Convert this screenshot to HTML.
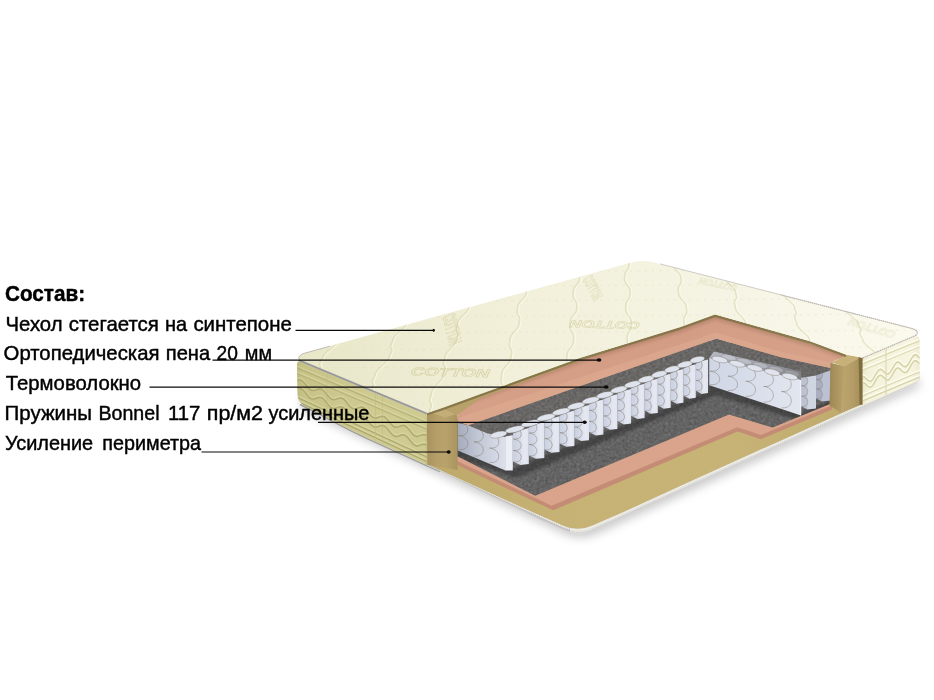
<!DOCTYPE html>
<html lang="ru"><head><meta charset="utf-8"><title>Состав матраса</title>
<style>
html,body{margin:0;padding:0;background:#fff;overflow:hidden;}
#stage{position:relative;width:934px;height:700px;overflow:hidden;background:#fff;}
#stage svg{position:absolute;left:0;top:0;display:block;}
</style></head>
<body><div id="stage">
<svg width="934" height="700" viewBox="0 0 934 700">
<defs>
<filter id="blur6" x="-20%" y="-50%" width="140%" height="200%"><feGaussianBlur stdDeviation="4.6"/></filter>
<filter id="blur03" x="-10%" y="-30%" width="120%" height="160%"><feGaussianBlur stdDeviation="0.35"/></filter>
<filter id="blur05" x="-10%" y="-10%" width="120%" height="120%"><feGaussianBlur stdDeviation="0.5"/></filter>
<filter id="blur1" x="-10%" y="-10%" width="120%" height="120%"><feGaussianBlur stdDeviation="0.6"/></filter>
<filter id="blur2" x="-10%" y="-10%" width="120%" height="120%"><feGaussianBlur stdDeviation="1.6"/></filter>
<filter id="noise" x="0" y="0" width="100%" height="100%">
<feTurbulence type="fractalNoise" baseFrequency="0.35" numOctaves="3" seed="11" result="n"/>
<feColorMatrix in="n" type="matrix" values="0 0 0 0 0  0 0 0 0 0  0 0 0 0 0  1.5 1.5 0 0 -1.2"/>
</filter>
<filter id="noiseL" x="0" y="0" width="100%" height="100%">
<feTurbulence type="fractalNoise" baseFrequency="0.35" numOctaves="3" seed="4" result="n"/>
<feColorMatrix in="n" type="matrix" values="0 0 0 0 1  0 0 0 0 1  0 0 0 0 1  0 1.5 1.5 0 -1.2"/>
</filter>
<linearGradient id="gOlive" gradientUnits="userSpaceOnUse" x1="430" y1="0" x2="860" y2="0"><stop offset="0" stop-color="#bda86a"/><stop offset="0.3" stop-color="#c6b274"/><stop offset="0.7" stop-color="#c7b376"/><stop offset="1" stop-color="#bfaa6c"/></linearGradient>
<linearGradient id="gUnit" x1="0" y1="0" x2="1" y2="0"><stop offset="0" stop-color="#cfd3e2"/><stop offset="0.38" stop-color="#dfe2ee"/><stop offset="0.5" stop-color="#eff0f7"/><stop offset="1" stop-color="#f6f6fb"/></linearGradient>
<linearGradient id="gBig" x1="0" y1="0" x2="1" y2="0"><stop offset="0" stop-color="#d0d6e5"/><stop offset="1" stop-color="#e2e6f0"/></linearGradient>
<linearGradient id="gShad" gradientUnits="userSpaceOnUse" x1="712" y1="0" x2="805" y2="0"><stop offset="0" stop-color="#b3b7c2"/><stop offset="0.6" stop-color="#9a9da7"/><stop offset="1" stop-color="#7c7d82"/></linearGradient>
<linearGradient id="gSideU" x1="0" y1="0" x2="1" y2="0"><stop offset="0" stop-color="#c9d0e1"/><stop offset="1" stop-color="#d6dbe8"/></linearGradient>
<linearGradient id="gFrontU" x1="0" y1="0" x2="1" y2="0"><stop offset="0" stop-color="#dce0ec"/><stop offset="0.55" stop-color="#e6e9f2"/><stop offset="1" stop-color="#dfe3ee"/></linearGradient>
<linearGradient id="gBig1" gradientUnits="userSpaceOnUse" x1="457" y1="0" x2="506" y2="0"><stop offset="0" stop-color="#a5aabb"/><stop offset="0.4" stop-color="#c0c5d4"/><stop offset="1" stop-color="#dde1ec"/></linearGradient>
<linearGradient id="gPinkT" gradientUnits="userSpaceOnUse" x1="430" y1="0" x2="850" y2="0"><stop offset="0" stop-color="#d6a088"/><stop offset="0.6" stop-color="#d39c84"/><stop offset="1" stop-color="#d7a28a"/></linearGradient>
<linearGradient id="gBrownL" gradientUnits="userSpaceOnUse" x1="427" y1="0" x2="458" y2="0"><stop offset="0" stop-color="#a8925e"/><stop offset="0.3" stop-color="#b59e68"/><stop offset="0.6" stop-color="#b9a26b"/><stop offset="1" stop-color="#a9935f"/></linearGradient>
<linearGradient id="gBrR1" gradientUnits="userSpaceOnUse" x1="830" y1="0" x2="845" y2="0"><stop offset="0" stop-color="#9e8855"/><stop offset="0.5" stop-color="#ad9661"/><stop offset="1" stop-color="#b9a26b"/></linearGradient>
<linearGradient id="gBrR2" gradientUnits="userSpaceOnUse" x1="843" y1="0" x2="861" y2="0"><stop offset="0" stop-color="#bba46d"/><stop offset="0.6" stop-color="#b29b65"/><stop offset="1" stop-color="#a48e5a"/></linearGradient>
<linearGradient id="gSideL" gradientUnits="userSpaceOnUse" x1="0" y1="360" x2="21" y2="409"><stop offset="0" stop-color="#e8e6b9"/><stop offset="0.2" stop-color="#e3e1ae"/><stop offset="0.7" stop-color="#dcd9a2"/><stop offset="1" stop-color="#ceca90"/></linearGradient>
<linearGradient id="gSideLx" gradientUnits="userSpaceOnUse" x1="296" y1="0" x2="428" y2="0"><stop offset="0" stop-color="#a9a566" stop-opacity="0.6"/><stop offset="0.05" stop-color="#b5b070" stop-opacity="0.28"/><stop offset="0.3" stop-color="#b5b070" stop-opacity="0.12"/><stop offset="0.7" stop-color="#c8c388" stop-opacity="0"/><stop offset="0.97" stop-color="#c8c388" stop-opacity="0"/><stop offset="1" stop-color="#a39d62" stop-opacity="0.55"/></linearGradient>
<linearGradient id="gSideR" gradientUnits="userSpaceOnUse" x1="862" y1="0" x2="920" y2="0"><stop offset="0" stop-color="#ebe9ca"/><stop offset="0.12" stop-color="#f4f2da"/><stop offset="0.85" stop-color="#f7f5e0"/><stop offset="1" stop-color="#edebd0"/></linearGradient>
<linearGradient id="gCover" gradientUnits="userSpaceOnUse" x1="300" y1="0" x2="920" y2="0"><stop offset="0" stop-color="#e9e7c8"/><stop offset="0.1" stop-color="#ebe9cd"/><stop offset="0.355" stop-color="#f2f0da"/><stop offset="0.74" stop-color="#f6f5e6"/><stop offset="1" stop-color="#fbfaee"/></linearGradient>
</defs>
<path d="M300,404 L427,464 L563,528 Q578.6,535 594,528.5 L918,381 L918,372 L578,500 L300,390Z" fill="#666" opacity="0.34" filter="url(#blur6)" transform="translate(1.5,6)"/>
<path d="M298,400 L303,406.2 L319.3,414.4 L336.5,423.9 L353.6,432.5 L365,438.2 L427,466.6 L440,472.3 L500,500 L540,519.3 L563.5,530 Q578.6,537.4 593.5,529.6 L620,517.3 L700,480.9 L780,444.4 L862,407.1 L917,382.3 Q920,381 920,378 L920,372 L577,516 L297,394Z" fill="#e4e3df"/>
<path d="M300,404.5 L303,406 L319.3,414.1 L336.5,423.5 L353.6,432.1 L365,437.7 L427,465.9 L440,471.6" fill="none" stroke="#9d9d9b" stroke-width="1.4"/>
<path d="M427,465.6 L440,471.4 L500,499.9 L540,519.2 L563.5,529.5 L570,532 L570,528 L563.5,526.9 L540,516.3 L440,469.8 L427,464Z" fill="#c4c4c6"/>
<path d="M440,471.2 L500,499.7 L540,519 L563.5,529.3 Q578.6,536.2 593.5,528.9 L620,517 L700,480.6 L780,444.1 L862,406.8 L917,382" fill="none" stroke="#c9c6c0" stroke-width="0.9" stroke-dasharray="1.2 1.1"/>
<path d="M440,469.8 L540,516.3 L563.5,526.9 Q578.6,533.2 593.5,526.2 L620,514.4 L700,477.8 L780,441.7 L862,404.6" fill="none" stroke="#f4f3f0" stroke-width="1.2" stroke-dasharray="1.4 0.9"/>
<path d="M427,464 L440,470 L540,515.6 L564,526 Q578.6,532 593,525.3 L620,513.6 L700,477 L780,440.9 L862.5,403.8 L862.5,380 L600,420 L440,440Z" fill="url(#gOlive)"/>
<path d="M452.0,462.5 L553.2,510.3 L737.5,431.4 L761.0,439.2 L832.0,409.5 L832,380 L452,430Z" fill="#c48c74"/>
<path d="M452.0,458.5 L551.5,505.8 L737.3,427.2 L761.0,435.0 L832.0,405.5 L832,380 L452,430Z" fill="#d9a48b"/>
<clipPath id="cFloor"><path d="M456.0,449.0 L456.0,455.5 L535.2,495.7 L729.0,414.6 L772.7,427.6 L831.0,403.5 L831.0,350.0 L700.0,340.0 L456.0,420.0Z"/></clipPath>
<path d="M456.0,449.0 L456.0,455.5 L535.2,495.7 L729.0,414.6 L772.7,427.6 L831.0,403.5 L831.0,350.0 L700.0,340.0 L456.0,420.0Z" fill="#656465"/>
<g clip-path="url(#cFloor)"><rect x="440" y="330" width="400" height="175" filter="url(#noise)" opacity="0.16"/><rect x="440" y="330" width="400" height="175" filter="url(#noiseL)" opacity="0.10"/><g opacity="0.55"><circle cx="577.8" cy="367.8" r="0.42" fill="#b0afaa"/><circle cx="764.8" cy="359.2" r="0.42" fill="#8c4a44"/><circle cx="646.8" cy="350.7" r="0.55" fill="#3f3e40"/><circle cx="546.5" cy="428.2" r="0.69" fill="#8c4a44"/><circle cx="502.5" cy="378.7" r="0.60" fill="#b0afaa"/><circle cx="479.3" cy="433.4" r="0.74" fill="#8c4a44"/><circle cx="473.5" cy="474.6" r="0.55" fill="#9a9a98"/><circle cx="659.3" cy="431.2" r="0.69" fill="#8c4a44"/><circle cx="524.0" cy="432.8" r="0.47" fill="#b0afaa"/><circle cx="492.6" cy="452.5" r="0.42" fill="#8c4a44"/><circle cx="533.4" cy="447.7" r="0.67" fill="#3f3e40"/><circle cx="631.1" cy="484.4" r="0.50" fill="#9a9a98"/><circle cx="754.7" cy="450.5" r="0.43" fill="#4a4f7c"/><circle cx="568.9" cy="419.8" r="0.66" fill="#9a9a98"/><circle cx="564.3" cy="493.0" r="0.58" fill="#8c4a44"/><circle cx="518.0" cy="396.7" r="0.55" fill="#3f3e40"/><circle cx="817.7" cy="356.7" r="0.60" fill="#8c4a44"/><circle cx="785.2" cy="392.4" r="0.52" fill="#b0afaa"/><circle cx="642.7" cy="465.3" r="0.69" fill="#8c4a44"/><circle cx="811.2" cy="416.6" r="0.42" fill="#b0afaa"/><circle cx="730.9" cy="391.8" r="0.75" fill="#8c4a44"/><circle cx="765.0" cy="388.0" r="0.71" fill="#3f3e40"/><circle cx="586.5" cy="487.0" r="0.46" fill="#9a9a98"/><circle cx="500.0" cy="353.9" r="0.45" fill="#9a9a98"/><circle cx="549.1" cy="404.0" r="0.43" fill="#3f3e40"/><circle cx="624.9" cy="428.0" r="0.69" fill="#4a4f7c"/><circle cx="780.9" cy="387.0" r="0.75" fill="#3f3e40"/><circle cx="712.7" cy="402.4" r="0.45" fill="#4a4f7c"/><circle cx="522.3" cy="380.0" r="0.40" fill="#4a4f7c"/><circle cx="768.5" cy="372.5" r="0.40" fill="#9a9a98"/><circle cx="613.5" cy="400.8" r="0.51" fill="#8c4a44"/><circle cx="503.2" cy="474.7" r="0.63" fill="#8c4a44"/><circle cx="734.2" cy="414.0" r="0.68" fill="#b0afaa"/><circle cx="603.5" cy="405.2" r="0.57" fill="#8c4a44"/><circle cx="606.6" cy="373.8" r="0.55" fill="#4a4f7c"/><circle cx="497.3" cy="435.7" r="0.40" fill="#8c4a44"/><circle cx="512.9" cy="360.3" r="0.61" fill="#9a9a98"/><circle cx="482.4" cy="376.4" r="0.45" fill="#3f3e40"/><circle cx="550.8" cy="397.5" r="0.57" fill="#9a9a98"/><circle cx="499.4" cy="418.7" r="0.57" fill="#3f3e40"/><circle cx="573.3" cy="366.8" r="0.52" fill="#b0afaa"/><circle cx="555.5" cy="470.2" r="0.58" fill="#4a4f7c"/><circle cx="533.2" cy="488.8" r="0.45" fill="#9a9a98"/><circle cx="660.2" cy="349.1" r="0.50" fill="#8c4a44"/><circle cx="697.7" cy="358.7" r="0.58" fill="#9a9a98"/><circle cx="797.5" cy="398.7" r="0.59" fill="#4a4f7c"/><circle cx="748.9" cy="394.8" r="0.61" fill="#4a4f7c"/><circle cx="752.4" cy="459.5" r="0.68" fill="#4a4f7c"/><circle cx="763.7" cy="456.7" r="0.47" fill="#4a4f7c"/><circle cx="641.3" cy="455.4" r="0.68" fill="#8c4a44"/><circle cx="633.6" cy="374.2" r="0.73" fill="#8c4a44"/><circle cx="624.2" cy="486.5" r="0.73" fill="#9a9a98"/><circle cx="593.1" cy="378.3" r="0.56" fill="#4a4f7c"/><circle cx="583.0" cy="417.9" r="0.69" fill="#8c4a44"/><circle cx="636.3" cy="443.6" r="0.43" fill="#b0afaa"/><circle cx="704.4" cy="482.4" r="0.66" fill="#b0afaa"/><circle cx="635.7" cy="372.0" r="0.52" fill="#b0afaa"/><circle cx="757.1" cy="491.7" r="0.56" fill="#3f3e40"/><circle cx="735.5" cy="357.8" r="0.46" fill="#4a4f7c"/><circle cx="503.8" cy="367.8" r="0.68" fill="#3f3e40"/><circle cx="511.0" cy="469.8" r="0.63" fill="#3f3e40"/><circle cx="587.8" cy="427.8" r="0.41" fill="#4a4f7c"/><circle cx="756.6" cy="454.7" r="0.58" fill="#8c4a44"/><circle cx="807.0" cy="410.5" r="0.69" fill="#4a4f7c"/><circle cx="535.4" cy="383.0" r="0.58" fill="#9a9a98"/><circle cx="743.1" cy="394.2" r="0.55" fill="#8c4a44"/><circle cx="505.3" cy="482.4" r="0.71" fill="#9a9a98"/><circle cx="705.1" cy="468.1" r="0.55" fill="#8c4a44"/><circle cx="801.1" cy="420.7" r="0.45" fill="#8c4a44"/><circle cx="648.0" cy="476.8" r="0.61" fill="#4a4f7c"/><circle cx="747.8" cy="367.6" r="0.57" fill="#4a4f7c"/><circle cx="728.7" cy="429.0" r="0.64" fill="#9a9a98"/><circle cx="655.6" cy="417.9" r="0.71" fill="#8c4a44"/><circle cx="477.4" cy="373.9" r="0.67" fill="#8c4a44"/><circle cx="646.9" cy="429.8" r="0.56" fill="#8c4a44"/><circle cx="686.3" cy="421.3" r="0.47" fill="#8c4a44"/><circle cx="560.2" cy="421.7" r="0.58" fill="#3f3e40"/><circle cx="549.1" cy="424.0" r="0.72" fill="#9a9a98"/><circle cx="791.7" cy="375.6" r="0.45" fill="#3f3e40"/><circle cx="501.7" cy="411.8" r="0.63" fill="#8c4a44"/><circle cx="617.1" cy="377.1" r="0.67" fill="#9a9a98"/><circle cx="793.3" cy="368.3" r="0.63" fill="#b0afaa"/><circle cx="593.7" cy="383.2" r="0.74" fill="#4a4f7c"/><circle cx="538.6" cy="488.8" r="0.71" fill="#3f3e40"/><circle cx="517.2" cy="445.8" r="0.46" fill="#4a4f7c"/><circle cx="618.3" cy="422.9" r="0.55" fill="#9a9a98"/><circle cx="590.1" cy="358.9" r="0.41" fill="#9a9a98"/><circle cx="664.3" cy="411.5" r="0.53" fill="#8c4a44"/><circle cx="650.6" cy="389.6" r="0.44" fill="#8c4a44"/><circle cx="801.4" cy="379.5" r="0.43" fill="#8c4a44"/><circle cx="558.2" cy="481.8" r="0.49" fill="#4a4f7c"/><circle cx="504.7" cy="408.8" r="0.69" fill="#b0afaa"/><circle cx="553.2" cy="367.6" r="0.60" fill="#8c4a44"/><circle cx="719.4" cy="358.5" r="0.68" fill="#8c4a44"/><circle cx="524.9" cy="480.2" r="0.73" fill="#9a9a98"/><circle cx="694.5" cy="466.0" r="0.61" fill="#8c4a44"/><circle cx="539.6" cy="384.9" r="0.56" fill="#8c4a44"/><circle cx="583.5" cy="428.5" r="0.62" fill="#9a9a98"/><circle cx="472.2" cy="452.1" r="0.74" fill="#8c4a44"/><circle cx="554.5" cy="372.4" r="0.62" fill="#9a9a98"/><circle cx="655.7" cy="376.1" r="0.58" fill="#3f3e40"/><circle cx="522.9" cy="397.4" r="0.75" fill="#8c4a44"/><circle cx="469.9" cy="347.8" r="0.59" fill="#8c4a44"/><circle cx="527.2" cy="416.7" r="0.44" fill="#3f3e40"/><circle cx="763.9" cy="410.3" r="0.59" fill="#3f3e40"/><circle cx="790.2" cy="491.5" r="0.64" fill="#9a9a98"/><circle cx="825.4" cy="396.7" r="0.66" fill="#b0afaa"/><circle cx="508.5" cy="494.4" r="0.69" fill="#8c4a44"/><circle cx="461.4" cy="439.4" r="0.55" fill="#9a9a98"/><circle cx="476.8" cy="445.4" r="0.70" fill="#3f3e40"/><circle cx="708.1" cy="387.6" r="0.64" fill="#4a4f7c"/><circle cx="473.0" cy="373.0" r="0.56" fill="#9a9a98"/><circle cx="555.0" cy="490.2" r="0.51" fill="#8c4a44"/><circle cx="469.0" cy="478.2" r="0.52" fill="#4a4f7c"/><circle cx="456.4" cy="402.6" r="0.50" fill="#3f3e40"/><circle cx="702.7" cy="382.5" r="0.43" fill="#8c4a44"/><circle cx="763.2" cy="366.7" r="0.41" fill="#8c4a44"/><circle cx="464.5" cy="390.9" r="0.43" fill="#4a4f7c"/><circle cx="816.1" cy="473.8" r="0.63" fill="#4a4f7c"/><circle cx="725.2" cy="477.7" r="0.67" fill="#3f3e40"/><circle cx="727.0" cy="419.6" r="0.65" fill="#9a9a98"/><circle cx="697.9" cy="351.6" r="0.71" fill="#b0afaa"/><circle cx="691.9" cy="455.8" r="0.45" fill="#8c4a44"/><circle cx="652.9" cy="421.2" r="0.69" fill="#8c4a44"/><circle cx="675.6" cy="479.8" r="0.73" fill="#b0afaa"/><circle cx="697.7" cy="357.8" r="0.45" fill="#8c4a44"/><circle cx="591.6" cy="360.8" r="0.60" fill="#3f3e40"/><circle cx="692.0" cy="439.6" r="0.49" fill="#b0afaa"/><circle cx="555.2" cy="414.0" r="0.66" fill="#8c4a44"/><circle cx="645.1" cy="425.8" r="0.58" fill="#b0afaa"/><circle cx="736.4" cy="416.6" r="0.70" fill="#8c4a44"/><circle cx="544.3" cy="459.2" r="0.66" fill="#4a4f7c"/><circle cx="822.9" cy="419.6" r="0.43" fill="#3f3e40"/><circle cx="798.3" cy="388.4" r="0.62" fill="#8c4a44"/><circle cx="697.7" cy="356.7" r="0.52" fill="#4a4f7c"/><circle cx="701.0" cy="449.6" r="0.60" fill="#8c4a44"/><circle cx="460.7" cy="354.2" r="0.74" fill="#9a9a98"/><circle cx="493.4" cy="377.9" r="0.50" fill="#3f3e40"/><circle cx="650.2" cy="415.2" r="0.67" fill="#3f3e40"/><circle cx="829.5" cy="427.9" r="0.74" fill="#9a9a98"/><circle cx="808.0" cy="347.6" r="0.43" fill="#3f3e40"/><circle cx="646.5" cy="495.2" r="0.54" fill="#9a9a98"/><circle cx="800.6" cy="485.5" r="0.60" fill="#8c4a44"/><circle cx="509.3" cy="424.1" r="0.45" fill="#9a9a98"/><circle cx="764.4" cy="421.8" r="0.65" fill="#8c4a44"/><circle cx="543.0" cy="480.6" r="0.54" fill="#3f3e40"/><circle cx="515.8" cy="488.4" r="0.56" fill="#b0afaa"/><circle cx="569.5" cy="366.2" r="0.53" fill="#9a9a98"/><circle cx="501.5" cy="395.0" r="0.66" fill="#9a9a98"/><circle cx="771.5" cy="363.1" r="0.65" fill="#4a4f7c"/><circle cx="795.0" cy="388.8" r="0.42" fill="#9a9a98"/><circle cx="602.7" cy="476.4" r="0.53" fill="#8c4a44"/><circle cx="616.9" cy="386.5" r="0.50" fill="#8c4a44"/><circle cx="475.4" cy="445.0" r="0.73" fill="#b0afaa"/><circle cx="549.7" cy="385.1" r="0.51" fill="#8c4a44"/><circle cx="746.7" cy="463.6" r="0.71" fill="#3f3e40"/><circle cx="761.3" cy="440.3" r="0.59" fill="#8c4a44"/><circle cx="726.6" cy="352.5" r="0.54" fill="#b0afaa"/><circle cx="687.2" cy="365.9" r="0.57" fill="#9a9a98"/><circle cx="798.9" cy="428.1" r="0.57" fill="#4a4f7c"/><circle cx="585.2" cy="390.0" r="0.66" fill="#b0afaa"/><circle cx="701.5" cy="406.3" r="0.51" fill="#4a4f7c"/><circle cx="665.6" cy="404.5" r="0.63" fill="#4a4f7c"/><circle cx="484.3" cy="420.6" r="0.59" fill="#3f3e40"/><circle cx="626.3" cy="395.3" r="0.55" fill="#3f3e40"/><circle cx="662.0" cy="381.9" r="0.52" fill="#4a4f7c"/><circle cx="490.3" cy="381.1" r="0.68" fill="#9a9a98"/><circle cx="532.0" cy="348.0" r="0.53" fill="#3f3e40"/><circle cx="736.4" cy="376.7" r="0.52" fill="#9a9a98"/><circle cx="479.3" cy="386.9" r="0.44" fill="#9a9a98"/></g></g>
<g clip-path="url(#cFloor)"><path d="M456,447 L513,468 L708,391 L709,383 L801,413 L831,400 L831,409 L801,421 L716,395 L516,478 L456,458Z" fill="#1d1c1e" opacity="0.42" filter="url(#blur2)"/></g>
<path d="M714,351.3 L801.5,371.2 L801.5,381 L709.3,357.7Z" fill="url(#gShad)"/>
<ellipse cx="728.9" cy="357.4" rx="7.6" ry="2.6" transform="rotate(13 728.9 357.4)" fill="#c3c7d1" fill-opacity="0.80" stroke="#7d7462" stroke-width="0.5" stroke-opacity="0.5"/>
<ellipse cx="744.7" cy="361.3" rx="7.6" ry="2.6" transform="rotate(13 744.7 361.3)" fill="#c3c7d1" fill-opacity="0.68" stroke="#7d7462" stroke-width="0.5" stroke-opacity="0.5"/>
<ellipse cx="760.5" cy="365.3" rx="7.6" ry="2.6" transform="rotate(13 760.5 365.3)" fill="#c3c7d1" fill-opacity="0.56" stroke="#7d7462" stroke-width="0.5" stroke-opacity="0.5"/>
<ellipse cx="776.3" cy="369.3" rx="7.6" ry="2.6" transform="rotate(13 776.3 369.3)" fill="#c3c7d1" fill-opacity="0.44" stroke="#7d7462" stroke-width="0.5" stroke-opacity="0.5"/>
<ellipse cx="792.1" cy="373.2" rx="7.6" ry="2.6" transform="rotate(13 792.1 373.2)" fill="#c3c7d1" fill-opacity="0.32" stroke="#7d7462" stroke-width="0.5" stroke-opacity="0.5"/>
<path d="M816.0,370.8 L822.1,369.6 L822.1,401.6 L816.0,398.4Z" fill="#a9afc1"/>
<path d="M821.8,369.6 L830.6,368.6 L830.6,400.6 L821.8,401.6Z" fill="#bbc1d2"/>
<path d="M816.3,369.6 C824.6,370.6 824.6,380.3 816.3,379.3 M816.3,379.3 C824.6,380.3 824.6,389.9 816.3,388.9 M816.3,388.9 C824.6,389.9 824.6,399.6 816.3,398.6" fill="none" stroke="#7d7462" stroke-width="0.6" opacity="0.7"/>
<path d="M801.1,376.5 L807.4,375.3 L807.4,409.5 L801.1,406.3Z" fill="#bcc2d2"/>
<path d="M807.1,375.3 L816.0,374.3 L816.0,408.5 L807.1,409.5Z" fill="#d0d5e2"/>
<path d="M801.4,375.3 C809.9,376.3 809.9,386.7 801.4,385.7 M801.4,385.7 C809.9,386.7 809.9,397.1 801.4,396.1 M801.4,396.1 C809.9,397.1 809.9,407.5 801.4,406.5" fill="none" stroke="#7d7462" stroke-width="0.6" opacity="0.7"/>
<path d="M709.3,357.7 L801.1,380.0 L801.1,415.4 L709.3,385.3Z" fill="url(#gBig)"/>
<path d="M710.0,357.5 C722.9,359.0 722.9,372.6 710.0,371.1 M710.0,371.1 C722.9,372.6 722.9,386.1 710.0,384.6 M727.9,361.9 C740.8,363.4 740.8,377.7 727.9,376.1 M727.9,376.1 C740.8,377.7 740.8,391.9 727.9,390.4 M745.8,366.3 C758.7,367.8 758.7,382.8 745.8,381.2 M745.8,381.2 C758.7,382.8 758.7,397.7 745.8,396.2 M763.7,370.7 C776.6,372.2 776.6,387.9 763.7,386.4 M763.7,386.4 C776.6,387.9 776.6,403.5 763.7,402.0 M781.6,375.1 C794.5,376.6 794.5,393.0 781.6,391.5 M781.6,391.5 C794.5,393.0 794.5,409.3 781.6,407.8" fill="none" stroke="#7d7462" stroke-width="0.55" opacity="0.8"/>
<path d="M800.6,380 L800.6,415.2" stroke="#f0f2f8" stroke-width="1.2"/>
<path d="M695.8,363.6 L701.6,361.3 L701.6,393.9 L695.8,390.6Z" fill="url(#gSideU)"/>
<path d="M701.3,361.3 L708.0,359.6 L708.0,393.0 L701.3,393.9Z" fill="url(#gFrontU)"/>
<path d="M696.1,359.1 C704.2,360.1 704.2,370.7 696.1,369.7 M696.1,369.7 C704.2,370.7 704.2,381.3 696.1,380.4 M696.1,380.4 C704.2,381.3 704.2,392.0 696.1,391.0" fill="none" stroke="#7d7462" stroke-width="0.6" opacity="0.75"/>
<path d="M683.4,368.4 L689.3,366.0 L689.3,398.7 L683.4,395.4Z" fill="url(#gSideU)"/>
<path d="M689.0,366.0 L695.8,364.2 L695.8,397.8 L689.0,398.7Z" fill="url(#gFrontU)"/>
<path d="M683.7,363.7 C691.9,364.7 691.9,375.4 683.7,374.4 M683.7,374.4 C691.9,375.4 691.9,386.1 683.7,385.1 M683.7,385.1 C691.9,386.1 691.9,396.8 683.7,395.8" fill="none" stroke="#7d7462" stroke-width="0.6" opacity="0.75"/>
<path d="M670.7,373.2 L676.7,370.7 L676.7,403.7 L670.7,400.4Z" fill="url(#gSideU)"/>
<path d="M676.4,370.7 L683.4,369.0 L683.4,402.8 L676.4,403.7Z" fill="url(#gFrontU)"/>
<path d="M671.0,368.5 C679.4,369.5 679.4,380.2 671.0,379.2 M671.0,379.2 C679.4,380.2 679.4,391.0 671.0,390.0 M671.0,390.0 C679.4,391.0 679.4,401.8 671.0,400.8" fill="none" stroke="#7d7462" stroke-width="0.6" opacity="0.75"/>
<path d="M657.8,378.2 L663.9,375.6 L663.9,408.7 L657.8,405.4Z" fill="url(#gSideU)"/>
<path d="M663.6,375.6 L670.7,373.8 L670.7,407.8 L663.6,408.7Z" fill="url(#gFrontU)"/>
<path d="M658.1,373.3 C666.6,374.4 666.6,385.2 658.1,384.1 M658.1,384.1 C666.6,385.2 666.6,396.0 658.1,395.0 M658.1,395.0 C666.6,396.0 666.6,406.8 658.1,405.8" fill="none" stroke="#7d7462" stroke-width="0.6" opacity="0.75"/>
<path d="M644.6,383.2 L650.8,380.6 L650.8,413.8 L644.6,410.5Z" fill="url(#gSideU)"/>
<path d="M650.5,380.6 L657.8,378.8 L657.8,412.9 L650.5,413.8Z" fill="url(#gFrontU)"/>
<path d="M644.9,378.3 C653.6,379.3 653.6,390.2 644.9,389.1 M644.9,389.1 C653.6,390.2 653.6,401.1 644.9,400.0 M644.9,400.0 C653.6,401.1 653.6,412.0 644.9,410.9" fill="none" stroke="#7d7462" stroke-width="0.6" opacity="0.75"/>
<path d="M631.1,388.3 L637.5,385.7 L637.5,419.0 L631.1,415.7Z" fill="url(#gSideU)"/>
<path d="M637.2,385.7 L644.6,383.8 L644.6,418.1 L637.2,419.0Z" fill="url(#gFrontU)"/>
<path d="M631.4,383.3 C640.4,384.4 640.4,395.3 631.4,394.2 M631.4,394.2 C640.4,395.3 640.4,406.3 631.4,405.2 M631.4,405.2 C640.4,406.3 640.4,417.2 631.4,416.1" fill="none" stroke="#7d7462" stroke-width="0.6" opacity="0.75"/>
<path d="M617.4,393.6 L623.9,390.9 L623.9,424.4 L617.4,421.1Z" fill="url(#gSideU)"/>
<path d="M623.6,390.9 L631.1,388.9 L631.1,423.5 L623.6,424.4Z" fill="url(#gFrontU)"/>
<path d="M617.7,388.4 C626.8,389.5 626.8,400.5 617.7,399.5 M617.7,399.5 C626.8,400.5 626.8,411.6 617.7,410.5 M617.7,410.5 C626.8,411.6 626.8,422.6 617.7,421.5" fill="none" stroke="#7d7462" stroke-width="0.6" opacity="0.75"/>
<path d="M603.4,398.9 L610.0,396.2 L610.0,429.8 L603.4,426.5Z" fill="url(#gSideU)"/>
<path d="M609.7,396.2 L617.4,394.2 L617.4,428.9 L609.7,429.8Z" fill="url(#gFrontU)"/>
<path d="M603.7,393.7 C613.0,394.8 613.0,405.9 603.7,404.8 M603.7,404.8 C613.0,405.9 613.0,417.0 603.7,415.8 M603.7,415.8 C613.0,417.0 613.0,428.0 603.7,426.9" fill="none" stroke="#7d7462" stroke-width="0.6" opacity="0.75"/>
<path d="M589.0,404.4 L595.8,401.6 L595.8,435.4 L589.0,432.1Z" fill="url(#gSideU)"/>
<path d="M595.5,401.6 L603.4,399.5 L603.4,434.5 L595.5,435.4Z" fill="url(#gFrontU)"/>
<path d="M589.3,399.0 C598.9,400.2 598.9,411.3 589.3,410.2 M589.3,410.2 C598.9,411.3 598.9,422.5 589.3,421.3 M589.3,421.3 C598.9,422.5 598.9,433.6 589.3,432.5" fill="none" stroke="#7d7462" stroke-width="0.6" opacity="0.75"/>
<path d="M574.4,410.0 L581.3,407.2 L581.3,441.1 L574.4,437.8Z" fill="url(#gSideU)"/>
<path d="M581.0,407.2 L589.0,405.0 L589.0,440.2 L581.0,441.1Z" fill="url(#gFrontU)"/>
<path d="M574.7,404.5 C584.5,405.7 584.5,416.9 574.7,415.7 M574.7,415.7 C584.5,416.9 584.5,428.1 574.7,426.9 M574.7,426.9 C584.5,428.1 584.5,439.3 574.7,438.2" fill="none" stroke="#7d7462" stroke-width="0.6" opacity="0.75"/>
<path d="M559.5,415.7 L566.6,412.8 L566.6,446.8 L559.5,443.5Z" fill="url(#gSideU)"/>
<path d="M566.3,412.8 L574.4,410.6 L574.4,445.9 L566.3,446.8Z" fill="url(#gFrontU)"/>
<path d="M559.8,410.1 C569.8,411.3 569.8,422.6 559.8,421.4 M559.8,421.4 C569.8,422.6 569.8,433.8 559.8,432.7 M559.8,432.7 C569.8,433.8 569.8,445.1 559.8,443.9" fill="none" stroke="#7d7462" stroke-width="0.6" opacity="0.75"/>
<path d="M544.3,421.5 L551.5,418.5 L551.5,452.8 L544.3,449.5Z" fill="url(#gSideU)"/>
<path d="M551.2,418.5 L559.5,416.3 L559.5,451.9 L551.2,452.8Z" fill="url(#gFrontU)"/>
<path d="M544.6,415.8 C554.8,417.0 554.8,428.3 544.6,427.1 M544.6,427.1 C554.8,428.3 554.8,439.7 544.6,438.5 M544.6,438.5 C554.8,439.7 554.8,451.1 544.6,449.9" fill="none" stroke="#7d7462" stroke-width="0.6" opacity="0.75"/>
<path d="M528.8,427.4 L536.1,424.4 L536.1,458.8 L528.8,455.5Z" fill="url(#gSideU)"/>
<path d="M535.8,424.4 L544.3,422.1 L544.3,457.9 L535.8,458.8Z" fill="url(#gFrontU)"/>
<path d="M529.1,421.6 C539.5,422.8 539.5,434.2 529.1,433.0 M529.1,433.0 C539.5,434.2 539.5,445.7 529.1,444.4 M529.1,444.4 C539.5,445.7 539.5,457.1 529.1,455.9" fill="none" stroke="#7d7462" stroke-width="0.6" opacity="0.75"/>
<path d="M513.0,433.4 L520.4,430.4 L520.4,464.9 L513.0,461.6Z" fill="url(#gSideU)"/>
<path d="M520.1,430.4 L528.8,428.0 L528.8,464.0 L520.1,464.9Z" fill="url(#gFrontU)"/>
<path d="M513.3,427.5 C523.9,428.7 523.9,440.3 513.3,439.0 M513.3,439.0 C523.9,440.3 523.9,451.8 513.3,450.5 M513.3,450.5 C523.9,451.8 523.9,463.3 513.3,462.0" fill="none" stroke="#7d7462" stroke-width="0.6" opacity="0.75"/>
<path d="M457.8,423.0 L468.4,425.2 L487.7,433.3 L505.5,437.2 L505.5,470.6 L457.8,450.6Z" fill="url(#gBig1)"/>
<path d="M505.2,436.6 L512.8,435.2 L512.8,470.6 L505.2,470.6Z" fill="#eceef5"/>
<path d="M458.5,421.5 C470.9,423.0 470.9,437.0 458.5,435.5 M458.5,435.5 C470.9,437.0 470.9,451.0 458.5,449.5 M474.0,427.5 C486.4,429.0 486.4,443.2 474.0,441.8 M474.0,441.8 C486.4,443.2 486.4,457.5 474.0,456.0 M489.5,433.5 C501.9,435.0 501.9,449.5 489.5,448.0 M489.5,448.0 C501.9,449.5 501.9,464.0 489.5,462.5" fill="none" stroke="#7d7462" stroke-width="0.55" opacity="0.8"/>
<clipPath id="cFeltT"><path d="M468.4,425.2 L716.4,338.4 L780.0,357.1 L831.5,368.2 L831.5,370.0 L816.0,375.6 L801.3,377.8 L801.3,371.2 L714.0,351.3 L705.0,359.3 L690.0,364.4 L487.7,433.6Z"/></clipPath>
<path d="M468.4,425.2 L716.4,338.4 L780.0,357.1 L831.5,368.2 L831.5,370.0 L816.0,375.6 L801.3,377.8 L801.3,371.2 L714.0,351.3 L705.0,359.3 L690.0,364.4 L487.7,433.6Z" fill="#6a6867"/>
<g clip-path="url(#cFeltT)"><rect x="460" y="330" width="380" height="110" filter="url(#noise)" opacity="0.16"/><rect x="460" y="330" width="380" height="110" filter="url(#noiseL)" opacity="0.10"/></g>
<ellipse cx="719.8" cy="359.5" rx="8.0" ry="2.9" transform="rotate(13 719.8 359.5)" fill="#dfe3ee" stroke="#7d7462" stroke-width="0.5" stroke-opacity="0.75"/>
<ellipse cx="737.2" cy="363.8" rx="8.0" ry="2.9" transform="rotate(13 737.2 363.8)" fill="#dfe3ee" stroke="#7d7462" stroke-width="0.5" stroke-opacity="0.75"/>
<ellipse cx="754.8" cy="368.0" rx="8.0" ry="2.9" transform="rotate(13 754.8 368.0)" fill="#dfe3ee" stroke="#7d7462" stroke-width="0.5" stroke-opacity="0.75"/>
<ellipse cx="772.2" cy="372.2" rx="8.0" ry="2.9" transform="rotate(13 772.2 372.2)" fill="#dfe3ee" stroke="#7d7462" stroke-width="0.5" stroke-opacity="0.75"/>
<ellipse cx="789.8" cy="376.5" rx="8.0" ry="2.9" transform="rotate(13 789.8 376.5)" fill="#dfe3ee" stroke="#7d7462" stroke-width="0.5" stroke-opacity="0.75"/>
<ellipse cx="514.9" cy="429.3" rx="9.8" ry="3.0" transform="rotate(-13 514.9 429.3)" fill="#dfe3ee" stroke="#7d7462" stroke-width="0.5" stroke-opacity="0.75"/>
<ellipse cx="530.7" cy="423.3" rx="9.6" ry="3.0" transform="rotate(-13 530.7 423.3)" fill="#dfe3ee" stroke="#7d7462" stroke-width="0.5" stroke-opacity="0.75"/>
<ellipse cx="546.2" cy="417.4" rx="9.4" ry="3.0" transform="rotate(-13 546.2 417.4)" fill="#dfe3ee" stroke="#7d7462" stroke-width="0.5" stroke-opacity="0.75"/>
<ellipse cx="561.3" cy="411.6" rx="9.2" ry="3.0" transform="rotate(-13 561.3 411.6)" fill="#dfe3ee" stroke="#7d7462" stroke-width="0.5" stroke-opacity="0.75"/>
<ellipse cx="576.2" cy="405.9" rx="9.1" ry="3.0" transform="rotate(-13 576.2 405.9)" fill="#dfe3ee" stroke="#7d7462" stroke-width="0.5" stroke-opacity="0.75"/>
<ellipse cx="590.8" cy="400.3" rx="8.9" ry="3.0" transform="rotate(-13 590.8 400.3)" fill="#dfe3ee" stroke="#7d7462" stroke-width="0.5" stroke-opacity="0.75"/>
<ellipse cx="605.0" cy="394.9" rx="8.7" ry="3.0" transform="rotate(-13 605.0 394.9)" fill="#dfe3ee" stroke="#7d7462" stroke-width="0.5" stroke-opacity="0.75"/>
<ellipse cx="619.0" cy="389.6" rx="8.5" ry="3.0" transform="rotate(-13 619.0 389.6)" fill="#dfe3ee" stroke="#7d7462" stroke-width="0.5" stroke-opacity="0.75"/>
<ellipse cx="632.7" cy="384.3" rx="8.4" ry="3.0" transform="rotate(-13 632.7 384.3)" fill="#dfe3ee" stroke="#7d7462" stroke-width="0.5" stroke-opacity="0.75"/>
<ellipse cx="646.2" cy="379.2" rx="8.2" ry="3.0" transform="rotate(-13 646.2 379.2)" fill="#dfe3ee" stroke="#7d7462" stroke-width="0.5" stroke-opacity="0.75"/>
<ellipse cx="659.3" cy="374.2" rx="8.0" ry="3.0" transform="rotate(-13 659.3 374.2)" fill="#dfe3ee" stroke="#7d7462" stroke-width="0.5" stroke-opacity="0.75"/>
<ellipse cx="672.2" cy="369.2" rx="7.9" ry="3.0" transform="rotate(-13 672.2 369.2)" fill="#dfe3ee" stroke="#7d7462" stroke-width="0.5" stroke-opacity="0.75"/>
<ellipse cx="684.9" cy="364.4" rx="7.7" ry="3.0" transform="rotate(-13 684.9 364.4)" fill="#dfe3ee" stroke="#7d7462" stroke-width="0.5" stroke-opacity="0.75"/>
<ellipse cx="697.3" cy="359.7" rx="7.5" ry="3.0" transform="rotate(-13 697.3 359.7)" fill="#dfe3ee" stroke="#7d7462" stroke-width="0.5" stroke-opacity="0.75"/>
<ellipse cx="498.5" cy="434.6" rx="8.6" ry="3.1" transform="rotate(-12 498.5 434.6)" fill="#dfe3ee" stroke="#7d7462" stroke-width="0.5" stroke-opacity="0.75"/>
<path d="M428.0,411.0 L715.0,314.6 L848.0,355.0 L833.0,361.5 L831.5,368.2 L780.0,357.1 L716.4,338.4 L468.4,425.2 L457.3,421.0 L457.3,414.0Z" fill="url(#gPinkT)"/>
<clipPath id="cPinkT"><path d="M428.0,411.0 L715.0,314.6 L848.0,355.0 L833.0,361.5 L831.5,368.2 L780.0,357.1 L716.4,338.4 L468.4,425.2 L457.3,421.0 L457.3,414.0Z"/></clipPath>
<g clip-path="url(#cPinkT)"><path d="M427,415.5 L442.4,410.5 L480,397 L580,360.6 L680,330 L715,317.4 L810,344 L846,357.4" fill="none" stroke="#6b4a35" stroke-width="5" opacity="0.22" filter="url(#blur2)"/></g>
<path d="M457.3,421.2 L468.4,425.2 L716.4,338.4 L780.0,357.1 L831.5,368.2 L832.5,363.0 L780.0,351.6 L716.2,332.6 L462.0,416.5Z" fill="#dcaa90" opacity="0.75" filter="url(#blur1)"/>
<path d="M427,413.5 Q427,410.8 430,410.9 L442,408.2 L455,413.2 Q457.6,414.2 457.6,417 L457.6,470 L427,464.8Z" fill="url(#gBrownL)"/>
<path d="M428,411.6 L442.4,408 L456.6,414 L445,417.5Z" fill="#c6af78" opacity="0.9" filter="url(#blur03)"/>
<path d="M830.5,363 L845,366 L841.5,413 L829.5,405.5Z" fill="url(#gBrR1)"/>
<path d="M844,366 L860.2,357.3 L860.2,405 L840.5,413Z" fill="url(#gBrR2)"/>
<path d="M831.5,362.4 L847.4,354.8 L860.6,357.2 L844.2,366.6Z" fill="#c8b179"/>
<path d="M858.6,357.2 L863.4,358 L863.2,404.6 L859.6,405Z" fill="#7d6c3c"/>
<path d="M442,408 L480,394.3 L580,357.9 L580,360.6 L520,383.2 L480,398.6 L457,415.2Z" fill="#b8a16a"/>
<clipPath id="cSideL"><path d="M297,365 Q297,360.6 300.5,361.8 L426.8,414.4 L427.4,465 L365,436.8 L353.6,431.3 L336.5,422.7 L319.3,413.3 L305,406 Q298.2,402.6 297.6,394Z"/></clipPath>
<path d="M297,365 Q297,360.6 300.5,361.8 L426.8,414.4 L427.4,465 L365,436.8 L353.6,431.3 L336.5,422.7 L319.3,413.3 L305,406 Q298.2,402.6 297.6,394Z" fill="url(#gSideL)"/>
<path d="M297,365 Q297,360.6 300.5,361.8 L426.8,414.4 L427.4,465 L365,436.8 L353.6,431.3 L336.5,422.7 L319.3,413.3 L305,406 Q298.2,402.6 297.6,394Z" fill="url(#gSideLx)"/>
<g clip-path="url(#cSideL)" fill="none" filter="url(#blur03)">
<path d="M296.6,366.1 L426.6,421.0" stroke="#e9e7bc" stroke-width="1.8" opacity="0.3"/>
<path d="M296.6,367.6 L426.6,422.5" stroke="#b5b178" stroke-width="1.3"/>
<path d="M296.6,371.7 L426.6,427.6" stroke="#e9e7bc" stroke-width="1.8" opacity="0.3"/>
<path d="M296.6,373.2 L426.6,429.1" stroke="#b7b37a" stroke-width="1.2"/>
<path d="M296.6,395.6 L426.6,455.4" stroke="#e9e7bc" stroke-width="1.8" opacity="0.3"/>
<path d="M296.6,397.1 L426.6,456.9" stroke="#afab70" stroke-width="1.2"/>
<path d="M296.6,399.6 L426.6,460.0" stroke="#e9e7bc" stroke-width="1.8" opacity="0.3"/>
<path d="M296.6,401.1 L426.6,461.5" stroke="#aaa66c" stroke-width="1.3"/>
<path d="M296.6,378.6 L298.2,378.2 L299.9,378.2 L301.5,378.8 L303.1,380.2 L304.7,382.0 L306.4,384.0 L308.0,386.0 L309.6,387.6 L311.2,388.7 L312.9,389.0 L314.5,388.8 L316.1,388.3 L317.7,387.6 L319.4,387.3 L321.0,387.4 L322.6,388.2 L324.2,389.6 L325.9,391.5 L327.5,393.6 L329.1,395.5 L330.7,397.0 L332.4,397.9 L334.0,398.2 L335.6,397.9 L337.2,397.3 L338.9,396.7 L340.5,396.4 L342.1,396.7 L343.7,397.6 L345.4,399.1 L347.0,401.1 L348.6,403.1 L350.2,405.0 L351.9,406.4 L353.5,407.2 L355.1,407.3 L356.7,406.9 L358.4,406.3 L360.0,405.7 L361.6,405.5 L363.2,405.9 L364.9,407.0 L366.5,408.6 L368.1,410.6 L369.7,412.7 L371.4,414.5 L373.0,415.8 L374.6,416.4 L376.2,416.4 L377.9,415.9 L379.5,415.3 L381.1,414.8 L382.7,414.7 L384.4,415.2 L386.0,416.4 L387.6,418.1 L389.2,420.2 L390.9,422.2 L392.5,423.9 L394.1,425.1 L395.7,425.6 L397.4,425.5 L399.0,425.0 L400.6,424.3 L402.2,423.9 L403.9,423.9 L405.5,424.6 L407.1,425.9 L408.7,427.7 L410.4,429.7 L412.0,431.7 L413.6,433.3 L415.2,434.4 L416.9,434.8 L418.5,434.5 L420.1,434.0 L421.7,433.3 L423.4,433.0 L425.0,433.1 L426.6,433.9" stroke="#ebe9be" stroke-width="1.8" opacity="0.3"/>
<path d="M296.6,380.2 L298.2,379.8 L299.9,379.8 L301.5,380.4 L303.1,381.8 L304.7,383.6 L306.4,385.6 L308.0,387.6 L309.6,389.2 L311.2,390.3 L312.9,390.6 L314.5,390.4 L316.1,389.9 L317.7,389.2 L319.4,388.9 L321.0,389.0 L322.6,389.8 L324.2,391.2 L325.9,393.1 L327.5,395.2 L329.1,397.1 L330.7,398.6 L332.4,399.5 L334.0,399.8 L335.6,399.5 L337.2,398.9 L338.9,398.3 L340.5,398.0 L342.1,398.3 L343.7,399.2 L345.4,400.7 L347.0,402.7 L348.6,404.7 L350.2,406.6 L351.9,408.0 L353.5,408.8 L355.1,408.9 L356.7,408.5 L358.4,407.9 L360.0,407.3 L361.6,407.1 L363.2,407.5 L364.9,408.6 L366.5,410.2 L368.1,412.2 L369.7,414.3 L371.4,416.1 L373.0,417.4 L374.6,418.0 L376.2,418.0 L377.9,417.5 L379.5,416.9 L381.1,416.4 L382.7,416.3 L384.4,416.8 L386.0,418.0 L387.6,419.7 L389.2,421.8 L390.9,423.8 L392.5,425.5 L394.1,426.7 L395.7,427.2 L397.4,427.1 L399.0,426.6 L400.6,425.9 L402.2,425.5 L403.9,425.5 L405.5,426.2 L407.1,427.5 L408.7,429.3 L410.4,431.3 L412.0,433.3 L413.6,434.9 L415.2,436.0 L416.9,436.4 L418.5,436.1 L420.1,435.6 L421.7,434.9 L423.4,434.6 L425.0,434.7 L426.6,435.5" stroke="#aeaa70" stroke-width="1.5"/>
<path d="M296.6,386.9 L298.2,386.4 L299.9,386.5 L301.5,387.2 L303.1,388.5 L304.7,390.3 L306.4,392.4 L308.0,394.4 L309.6,396.0 L311.2,397.1 L312.9,397.5 L314.5,397.3 L316.1,396.7 L317.7,396.1 L319.4,395.8 L321.0,395.9 L322.6,396.7 L324.2,398.2 L325.9,400.1 L327.5,402.2 L329.1,404.1 L330.7,405.7 L332.4,406.6 L334.0,406.8 L335.6,406.6 L337.2,406.0 L338.9,405.4 L340.5,405.1 L342.1,405.4 L343.7,406.3 L345.4,407.9 L347.0,409.8 L348.6,411.9 L350.2,413.8 L351.9,415.3 L353.5,416.0 L355.1,416.2 L356.7,415.8 L358.4,415.2 L360.0,414.6 L361.6,414.5 L363.2,414.9 L364.9,416.0 L366.5,417.6 L368.1,419.6 L369.7,421.7 L371.4,423.5 L373.0,424.8 L374.6,425.5 L376.2,425.5 L377.9,425.1 L379.5,424.4 L381.1,423.9 L382.7,423.9 L384.4,424.4 L386.0,425.6 L387.6,427.3 L389.2,429.4 L390.9,431.5 L392.5,433.2 L394.1,434.4 L395.7,434.9 L397.4,434.8 L399.0,434.3 L400.6,433.7 L402.2,433.2 L403.9,433.3 L405.5,434.0 L407.1,435.3 L408.7,437.1 L410.4,439.2 L412.0,441.2 L413.6,442.8 L415.2,443.9 L416.9,444.3 L418.5,444.1 L420.1,443.5 L421.7,442.9 L423.4,442.6 L425.0,442.7 L426.6,443.5" stroke="#ebe9be" stroke-width="1.8" opacity="0.3"/>
<path d="M296.6,388.5 L298.2,388.0 L299.9,388.1 L301.5,388.8 L303.1,390.1 L304.7,391.9 L306.4,394.0 L308.0,396.0 L309.6,397.6 L311.2,398.7 L312.9,399.1 L314.5,398.9 L316.1,398.3 L317.7,397.7 L319.4,397.4 L321.0,397.5 L322.6,398.3 L324.2,399.8 L325.9,401.7 L327.5,403.8 L329.1,405.7 L330.7,407.3 L332.4,408.2 L334.0,408.4 L335.6,408.2 L337.2,407.6 L338.9,407.0 L340.5,406.7 L342.1,407.0 L343.7,407.9 L345.4,409.5 L347.0,411.4 L348.6,413.5 L350.2,415.4 L351.9,416.9 L353.5,417.6 L355.1,417.8 L356.7,417.4 L358.4,416.8 L360.0,416.2 L361.6,416.1 L363.2,416.5 L364.9,417.6 L366.5,419.2 L368.1,421.2 L369.7,423.3 L371.4,425.1 L373.0,426.4 L374.6,427.1 L376.2,427.1 L377.9,426.7 L379.5,426.0 L381.1,425.5 L382.7,425.5 L384.4,426.0 L386.0,427.2 L387.6,428.9 L389.2,431.0 L390.9,433.1 L392.5,434.8 L394.1,436.0 L395.7,436.5 L397.4,436.4 L399.0,435.9 L400.6,435.3 L402.2,434.8 L403.9,434.9 L405.5,435.6 L407.1,436.9 L408.7,438.7 L410.4,440.8 L412.0,442.8 L413.6,444.4 L415.2,445.5 L416.9,445.9 L418.5,445.7 L420.1,445.1 L421.7,444.5 L423.4,444.2 L425.0,444.3 L426.6,445.1" stroke="#aeaa70" stroke-width="1.5"/>
<path d="M327,373.2 L327,418.3" stroke="#c0bc84" stroke-width="1" opacity="0.6"/>
<path d="M375.5,393.3 L375.5,441.1" stroke="#c0bc84" stroke-width="1" opacity="0.6"/>
<path d="M382.5,396.1 L382.5,444.3" stroke="#c0bc84" stroke-width="1" opacity="0.6"/>
</g>
<clipPath id="cSideR"><path d="M862.6,358.6 L913.5,337 Q919.6,334.6 919.6,340.5 L919.6,376 Q919.6,380 916,381.8 L862.6,405.4Z"/></clipPath>
<path d="M862.6,358.6 L913.5,337 Q919.6,334.6 919.6,340.5 L919.6,376 Q919.6,380 916,381.8 L862.6,405.4Z" fill="url(#gSideR)"/>
<g clip-path="url(#cSideR)" fill="none" filter="url(#blur05)">
<path d="M862.6,362.3 L919.8,339.0" stroke="#fffef2" stroke-width="1.6" opacity="0.8"/>
<path d="M862.6,363.9 L919.8,340.6" stroke="#dcd9b2" stroke-width="1.3"/>
<path d="M862.6,368.6 L919.8,345.2" stroke="#fffef2" stroke-width="1.6" opacity="0.8"/>
<path d="M862.6,370.2 L919.8,346.8" stroke="#dedbb6" stroke-width="1.2"/>
<path d="M862.6,394.2 L919.8,370.2" stroke="#fffef2" stroke-width="1.6" opacity="0.8"/>
<path d="M862.6,395.8 L919.8,371.8" stroke="#dad7b0" stroke-width="1.2"/>
<path d="M862.6,399.3 L919.8,375.2" stroke="#fffef2" stroke-width="1.6" opacity="0.8"/>
<path d="M862.6,400.9 L919.8,376.8" stroke="#d6d3aa" stroke-width="1.3"/>
<path d="M862.6,374.8 L863.6,374.9 L864.5,375.4 L865.5,376.1 L866.4,377.1 L867.4,378.0 L868.3,378.8 L869.3,379.4 L870.2,379.5 L871.2,379.2 L872.1,378.4 L873.1,377.2 L874.0,375.7 L875.0,374.0 L875.9,372.2 L876.9,370.6 L877.9,369.2 L878.8,368.2 L879.8,367.7 L880.7,367.6 L881.7,367.9 L882.6,368.6 L883.6,369.5 L884.5,370.5 L885.5,371.3 L886.4,372.0 L887.4,372.3 L888.3,372.1 L889.3,371.5 L890.2,370.4 L891.2,369.0 L892.2,367.3 L893.1,365.6 L894.1,363.9 L895.0,362.4 L896.0,361.3 L896.9,360.6 L897.9,360.3 L898.8,360.5 L899.8,361.1 L900.7,361.9 L901.7,362.9 L902.6,363.8 L903.6,364.5 L904.5,365.0 L905.5,365.0 L906.5,364.5 L907.4,363.6 L908.4,362.3 L909.3,360.7 L910.3,359.0 L911.2,357.2 L912.2,355.7 L913.1,354.4 L914.1,353.5 L915.0,353.1 L916.0,353.1 L916.9,353.6 L917.9,354.4 L918.8,355.3 L919.8,356.3" stroke="#fffef2" stroke-width="1.7" opacity="0.8"/>
<path d="M862.6,376.5 L863.6,376.6 L864.5,377.1 L865.5,377.8 L866.4,378.8 L867.4,379.7 L868.3,380.5 L869.3,381.1 L870.2,381.2 L871.2,380.9 L872.1,380.1 L873.1,378.9 L874.0,377.4 L875.0,375.7 L875.9,373.9 L876.9,372.3 L877.9,370.9 L878.8,369.9 L879.8,369.4 L880.7,369.3 L881.7,369.6 L882.6,370.3 L883.6,371.2 L884.5,372.2 L885.5,373.0 L886.4,373.7 L887.4,374.0 L888.3,373.8 L889.3,373.2 L890.2,372.1 L891.2,370.7 L892.2,369.0 L893.1,367.3 L894.1,365.6 L895.0,364.1 L896.0,363.0 L896.9,362.3 L897.9,362.0 L898.8,362.2 L899.8,362.8 L900.7,363.6 L901.7,364.6 L902.6,365.5 L903.6,366.2 L904.5,366.7 L905.5,366.7 L906.5,366.2 L907.4,365.3 L908.4,364.0 L909.3,362.4 L910.3,360.7 L911.2,358.9 L912.2,357.4 L913.1,356.1 L914.1,355.2 L915.0,354.8 L916.0,354.8 L916.9,355.3 L917.9,356.1 L918.8,357.0 L919.8,358.0" stroke="#d5d2a8" stroke-width="1.5"/>
<path d="M862.6,380.9 L863.6,380.9 L864.5,381.4 L865.5,382.2 L866.4,383.1 L867.4,384.1 L868.3,384.9 L869.3,385.4 L870.2,385.5 L871.2,385.2 L872.1,384.4 L873.1,383.2 L874.0,381.7 L875.0,380.0 L875.9,378.2 L876.9,376.6 L877.9,375.2 L878.8,374.2 L879.8,373.7 L880.7,373.6 L881.7,373.9 L882.6,374.6 L883.6,375.5 L884.5,376.5 L885.5,377.3 L886.4,378.0 L887.4,378.2 L888.3,378.1 L889.3,377.5 L890.2,376.4 L891.2,375.0 L892.2,373.3 L893.1,371.6 L894.1,369.9 L895.0,368.4 L896.0,367.2 L896.9,366.5 L897.9,366.3 L898.8,366.5 L899.8,367.0 L900.7,367.9 L901.7,368.8 L902.6,369.8 L903.6,370.5 L904.5,370.9 L905.5,370.9 L906.5,370.5 L907.4,369.5 L908.4,368.2 L909.3,366.6 L910.3,364.9 L911.2,363.2 L912.2,361.6 L913.1,360.3 L914.1,359.4 L915.0,359.0 L916.0,359.1 L916.9,359.5 L917.9,360.3 L918.8,361.2 L919.8,362.2" stroke="#fffef2" stroke-width="1.7" opacity="0.8"/>
<path d="M862.6,382.6 L863.6,382.6 L864.5,383.1 L865.5,383.9 L866.4,384.8 L867.4,385.8 L868.3,386.6 L869.3,387.1 L870.2,387.2 L871.2,386.9 L872.1,386.1 L873.1,384.9 L874.0,383.4 L875.0,381.7 L875.9,379.9 L876.9,378.3 L877.9,376.9 L878.8,375.9 L879.8,375.4 L880.7,375.3 L881.7,375.6 L882.6,376.3 L883.6,377.2 L884.5,378.2 L885.5,379.0 L886.4,379.7 L887.4,379.9 L888.3,379.8 L889.3,379.2 L890.2,378.1 L891.2,376.7 L892.2,375.0 L893.1,373.3 L894.1,371.6 L895.0,370.1 L896.0,368.9 L896.9,368.2 L897.9,368.0 L898.8,368.2 L899.8,368.7 L900.7,369.6 L901.7,370.5 L902.6,371.5 L903.6,372.2 L904.5,372.6 L905.5,372.6 L906.5,372.2 L907.4,371.2 L908.4,369.9 L909.3,368.3 L910.3,366.6 L911.2,364.9 L912.2,363.3 L913.1,362.0 L914.1,361.1 L915.0,360.7 L916.0,360.8 L916.9,361.2 L917.9,362.0 L918.8,362.9 L919.8,363.9" stroke="#d5d2a8" stroke-width="1.5"/>
<path d="M886,349.1 L886,395.2" stroke="#dedbb6" stroke-width="1.2"/>
</g>
<clipPath id="cCover"><path d="M303,353.4 L631,262.6 Q641.5,259.6 652,262 L660,263.9 L912,328.5 Q920.5,331.2 915,335.6 L862.3,357.6 L846,354.7 L810,341.2 L715,314.6 L680,327.2 L580,357.9 L480,394.3 L442.4,408 L427,413.2 L300.5,360.4 Q295.5,357.6 303,353.4Z"/></clipPath>
<path d="M427,414 L442.4,409 L480,395.4 L580,359 L680,328.4 L715,315.8 L810,342.4 L846,355.8" fill="none" stroke="#857548" stroke-width="2.6" stroke-linejoin="round" opacity="0.95"/>
<path d="M303,353.4 L631,262.6 Q641.5,259.6 652,262 L660,263.9 L912,328.5 Q920.5,331.2 915,335.6 L862.3,357.6 L846,354.7 L810,341.2 L715,314.6 L680,327.2 L580,357.9 L480,394.3 L442.4,408 L427,413.2 L300.5,360.4 Q295.5,357.6 303,353.4Z" fill="url(#gCover)"/>
<g clip-path="url(#cCover)" fill="none" stroke-linecap="round">
<path d="M290,272.8 L925,269.3" stroke="#dedbb4" stroke-width="0.9" stroke-dasharray="0.9 6.5" opacity="0.55"/>
<path d="M290,287.1 L925,283.6" stroke="#dedbb4" stroke-width="0.9" stroke-dasharray="0.9 6.5" opacity="0.55"/>
<path d="M290,302.0 L925,298.5" stroke="#dedbb4" stroke-width="0.9" stroke-dasharray="0.9 6.5" opacity="0.55"/>
<path d="M290,317.5 L925,314.0" stroke="#dedbb4" stroke-width="0.9" stroke-dasharray="0.9 6.5" opacity="0.55"/>
<path d="M290,333.6 L925,330.1" stroke="#dedbb4" stroke-width="0.9" stroke-dasharray="0.9 6.5" opacity="0.55"/>
<path d="M290,350.4 L925,346.9" stroke="#dedbb4" stroke-width="0.9" stroke-dasharray="0.9 6.5" opacity="0.55"/>
<path d="M290,367.8 L925,364.3" stroke="#dedbb4" stroke-width="0.9" stroke-dasharray="0.9 6.5" opacity="0.55"/>
<path d="M290,386.0 L925,382.5" stroke="#dedbb4" stroke-width="0.9" stroke-dasharray="0.9 6.5" opacity="0.55"/>
<path d="M290,404.9 L925,401.4" stroke="#dedbb4" stroke-width="0.9" stroke-dasharray="0.9 6.5" opacity="0.55"/>
<path d="M290,424.6 L925,421.1" stroke="#dedbb4" stroke-width="0.9" stroke-dasharray="0.9 6.5" opacity="0.55"/>
<path d="M290,445.1 L925,441.6" stroke="#dedbb4" stroke-width="0.9" stroke-dasharray="0.9 6.5" opacity="0.55"/>
<path d="M344.0,257.0 C346.6,259.5 341.2,260.9 341.2,263.9 S335.7,268.3 333.1,270.8 L333.1,270.8 C330.5,273.3 324.9,274.9 324.9,277.9 S319.2,282.6 321.8,285.1 L321.8,285.1 C324.4,287.6 318.5,289.5 318.5,292.5 S312.6,297.5 310.0,300.0 L310.0,300.0 C307.4,302.5 301.3,304.7 301.3,307.7 S295.2,313.0 297.8,315.5 L297.8,315.5 C300.4,318.0 294.0,320.5 294.0,323.5 S287.6,329.1 285.0,331.6 L285.0,331.6 C282.4,334.1 275.8,337.0 275.8,340.0 S269.2,345.9 271.8,348.4 L271.8,348.4 C274.4,350.9 267.5,354.1 267.5,357.1 S260.6,363.3 258.0,365.8 L258.0,365.8 C255.4,368.3 248.2,371.9 248.2,374.9 S241.0,381.5 243.6,384.0 L243.6,384.0 C246.2,386.5 238.7,390.5 238.7,393.5 S231.2,400.4 228.6,402.9 L228.6,402.9 C226.0,405.4 218.3,409.8 218.3,412.8 S210.5,420.1 213.1,422.6 L213.1,422.6 C215.7,425.1 207.6,429.8 207.6,432.8 S199.5,440.6 196.9,443.1" stroke="#d6d2a4" stroke-width="1.7" opacity="0.5" filter="url(#blur1)"/>
<path d="M345.5,257.0 C348.1,259.5 342.7,260.9 342.7,263.9 S337.2,268.3 334.6,270.8 L334.6,270.8 C332.0,273.3 326.4,274.9 326.4,277.9 S320.7,282.6 323.3,285.1 L323.3,285.1 C325.9,287.6 320.0,289.5 320.0,292.5 S314.1,297.5 311.5,300.0 L311.5,300.0 C308.9,302.5 302.8,304.7 302.8,307.7 S296.7,313.0 299.3,315.5 L299.3,315.5 C301.9,318.0 295.5,320.5 295.5,323.5 S289.1,329.1 286.5,331.6 L286.5,331.6 C283.9,334.1 277.3,337.0 277.3,340.0 S270.7,345.9 273.3,348.4 L273.3,348.4 C275.9,350.9 269.0,354.1 269.0,357.1 S262.1,363.3 259.5,365.8 L259.5,365.8 C256.9,368.3 249.7,371.9 249.7,374.9 S242.5,381.5 245.1,384.0 L245.1,384.0 C247.7,386.5 240.2,390.5 240.2,393.5 S232.7,400.4 230.1,402.9 L230.1,402.9 C227.5,405.4 219.8,409.8 219.8,412.8 S212.0,420.1 214.6,422.6 L214.6,422.6 C217.2,425.1 209.1,429.8 209.1,432.8 S201.0,440.6 198.4,443.1" stroke="#fffef6" stroke-width="1.3" opacity="0.55" filter="url(#blur1)"/>
<path d="M391.0,257.0 C388.4,259.5 383.9,260.9 383.9,263.9 S379.5,268.3 382.1,270.8 L382.1,270.8 C384.7,273.3 380.0,274.9 380.0,277.9 S375.3,282.6 372.7,285.1 L372.7,285.1 C370.1,287.6 365.3,289.5 365.3,292.5 S360.4,297.5 363.0,300.0 L363.0,300.0 C365.6,302.5 360.6,304.7 360.6,307.7 S355.5,313.0 352.9,315.5 L352.9,315.5 C350.3,318.0 345.1,320.5 345.1,323.5 S339.8,329.1 342.4,331.6 L342.4,331.6 C345.0,334.1 339.5,337.0 339.5,340.0 S334.1,345.9 331.5,348.4 L331.5,348.4 C328.9,350.9 323.2,354.1 323.2,357.1 S317.5,363.3 320.1,365.8 L320.1,365.8 C322.7,368.3 316.8,371.9 316.8,374.9 S310.8,381.5 308.2,384.0 L308.2,384.0 C305.6,386.5 299.5,390.5 299.5,393.5 S293.3,400.4 295.9,402.9 L295.9,402.9 C298.5,405.4 292.1,409.8 292.1,412.8 S285.7,420.1 283.1,422.6 L283.1,422.6 C280.5,425.1 273.8,429.8 273.8,432.8 S267.1,440.6 269.7,443.1" stroke="#d6d2a4" stroke-width="1.7" opacity="0.5" filter="url(#blur1)"/>
<path d="M392.5,257.0 C389.9,259.5 385.4,260.9 385.4,263.9 S381.0,268.3 383.6,270.8 L383.6,270.8 C386.2,273.3 381.5,274.9 381.5,277.9 S376.8,282.6 374.2,285.1 L374.2,285.1 C371.6,287.6 366.8,289.5 366.8,292.5 S361.9,297.5 364.5,300.0 L364.5,300.0 C367.1,302.5 362.1,304.7 362.1,307.7 S357.0,313.0 354.4,315.5 L354.4,315.5 C351.8,318.0 346.6,320.5 346.6,323.5 S341.3,329.1 343.9,331.6 L343.9,331.6 C346.5,334.1 341.0,337.0 341.0,340.0 S335.6,345.9 333.0,348.4 L333.0,348.4 C330.4,350.9 324.7,354.1 324.7,357.1 S319.0,363.3 321.6,365.8 L321.6,365.8 C324.2,368.3 318.3,371.9 318.3,374.9 S312.3,381.5 309.7,384.0 L309.7,384.0 C307.1,386.5 301.0,390.5 301.0,393.5 S294.8,400.4 297.4,402.9 L297.4,402.9 C300.0,405.4 293.6,409.8 293.6,412.8 S287.2,420.1 284.6,422.6 L284.6,422.6 C282.0,425.1 275.3,429.8 275.3,432.8 S268.6,440.6 271.2,443.1" stroke="#fffef6" stroke-width="1.3" opacity="0.55" filter="url(#blur1)"/>
<path d="M438.1,257.0 C440.7,259.5 437.1,260.9 437.1,263.9 S433.6,268.3 431.0,270.8 L431.0,270.8 C428.4,273.3 424.7,274.9 424.7,277.9 S421.1,282.6 423.7,285.1 L423.7,285.1 C426.3,287.6 422.4,289.5 422.4,292.5 S418.6,297.5 416.0,300.0 L416.0,300.0 C413.4,302.5 409.4,304.7 409.4,307.7 S405.5,313.0 408.1,315.5 L408.1,315.5 C410.7,318.0 406.5,320.5 406.5,323.5 S402.4,329.1 399.8,331.6 L399.8,331.6 C397.2,334.1 392.9,337.0 392.9,340.0 S388.6,345.9 391.2,348.4 L391.2,348.4 C393.8,350.9 389.3,354.1 389.3,357.1 S384.8,363.3 382.2,365.8 L382.2,365.8 C379.6,368.3 375.0,371.9 375.0,374.9 S370.3,381.5 372.9,384.0 L372.9,384.0 C375.5,386.5 370.6,390.5 370.6,393.5 S365.8,400.4 363.2,402.9 L363.2,402.9 C360.6,405.4 355.5,409.8 355.5,412.8 S350.5,420.1 353.1,422.6 L353.1,422.6 C355.7,425.1 350.4,429.8 350.4,432.8 S345.2,440.6 342.6,443.1" stroke="#d6d2a4" stroke-width="1.7" opacity="0.5" filter="url(#blur1)"/>
<path d="M439.6,257.0 C442.2,259.5 438.6,260.9 438.6,263.9 S435.1,268.3 432.5,270.8 L432.5,270.8 C429.9,273.3 426.2,274.9 426.2,277.9 S422.6,282.6 425.2,285.1 L425.2,285.1 C427.8,287.6 423.9,289.5 423.9,292.5 S420.1,297.5 417.5,300.0 L417.5,300.0 C414.9,302.5 410.9,304.7 410.9,307.7 S407.0,313.0 409.6,315.5 L409.6,315.5 C412.2,318.0 408.0,320.5 408.0,323.5 S403.9,329.1 401.3,331.6 L401.3,331.6 C398.7,334.1 394.4,337.0 394.4,340.0 S390.1,345.9 392.7,348.4 L392.7,348.4 C395.3,350.9 390.8,354.1 390.8,357.1 S386.3,363.3 383.7,365.8 L383.7,365.8 C381.1,368.3 376.5,371.9 376.5,374.9 S371.8,381.5 374.4,384.0 L374.4,384.0 C377.0,386.5 372.1,390.5 372.1,393.5 S367.3,400.4 364.7,402.9 L364.7,402.9 C362.1,405.4 357.0,409.8 357.0,412.8 S352.0,420.1 354.6,422.6 L354.6,422.6 C357.2,425.1 351.9,429.8 351.9,432.8 S346.7,440.6 344.1,443.1" stroke="#fffef6" stroke-width="1.3" opacity="0.55" filter="url(#blur1)"/>
<path d="M485.1,257.0 C482.5,259.5 479.9,260.9 479.9,263.9 S477.3,268.3 479.9,270.8 L479.9,270.8 C482.5,273.3 479.9,274.9 479.9,277.9 S477.2,282.6 474.6,285.1 L474.6,285.1 C472.0,287.6 469.2,289.5 469.2,292.5 S466.4,297.5 469.0,300.0 L469.0,300.0 C471.6,302.5 468.7,304.7 468.7,307.7 S465.8,313.0 463.2,315.5 L463.2,315.5 C460.6,318.0 457.6,320.5 457.6,323.5 S454.6,329.1 457.2,331.6 L457.2,331.6 C459.8,334.1 456.6,337.0 456.6,340.0 S453.5,345.9 450.9,348.4 L450.9,348.4 C448.3,350.9 445.0,354.1 445.0,357.1 S441.8,363.3 444.4,365.8 L444.4,365.8 C447.0,368.3 443.6,371.9 443.6,374.9 S440.2,381.5 437.6,384.0 L437.6,384.0 C435.0,386.5 431.4,390.5 431.4,393.5 S427.9,400.4 430.5,402.9 L430.5,402.9 C433.1,405.4 429.4,409.8 429.4,412.8 S425.7,420.1 423.1,422.6 L423.1,422.6 C420.5,425.1 416.7,429.8 416.7,432.8 S412.8,440.6 415.4,443.1" stroke="#d6d2a4" stroke-width="1.7" opacity="0.5" filter="url(#blur1)"/>
<path d="M486.6,257.0 C484.0,259.5 481.4,260.9 481.4,263.9 S478.8,268.3 481.4,270.8 L481.4,270.8 C484.0,273.3 481.4,274.9 481.4,277.9 S478.7,282.6 476.1,285.1 L476.1,285.1 C473.5,287.6 470.7,289.5 470.7,292.5 S467.9,297.5 470.5,300.0 L470.5,300.0 C473.1,302.5 470.2,304.7 470.2,307.7 S467.3,313.0 464.7,315.5 L464.7,315.5 C462.1,318.0 459.1,320.5 459.1,323.5 S456.1,329.1 458.7,331.6 L458.7,331.6 C461.3,334.1 458.1,337.0 458.1,340.0 S455.0,345.9 452.4,348.4 L452.4,348.4 C449.8,350.9 446.5,354.1 446.5,357.1 S443.3,363.3 445.9,365.8 L445.9,365.8 C448.5,368.3 445.1,371.9 445.1,374.9 S441.7,381.5 439.1,384.0 L439.1,384.0 C436.5,386.5 432.9,390.5 432.9,393.5 S429.4,400.4 432.0,402.9 L432.0,402.9 C434.6,405.4 430.9,409.8 430.9,412.8 S427.2,420.1 424.6,422.6 L424.6,422.6 C422.0,425.1 418.2,429.8 418.2,432.8 S414.3,440.6 416.9,443.1" stroke="#fffef6" stroke-width="1.3" opacity="0.55" filter="url(#blur1)"/>
<path d="M532.1,257.0 C534.7,259.5 533.1,260.9 533.1,263.9 S531.5,268.3 528.9,270.8 L528.9,270.8 C526.3,273.3 524.6,274.9 524.6,277.9 S522.9,282.6 525.5,285.1 L525.5,285.1 C528.1,287.6 526.4,289.5 526.4,292.5 S524.6,297.5 522.0,300.0 L522.0,300.0 C519.4,302.5 517.6,304.7 517.6,307.7 S515.8,313.0 518.4,315.5 L518.4,315.5 C521.0,318.0 519.1,320.5 519.1,323.5 S517.2,329.1 514.6,331.6 L514.6,331.6 C512.0,334.1 510.0,337.0 510.0,340.0 S508.0,345.9 510.6,348.4 L510.6,348.4 C513.2,350.9 511.1,354.1 511.1,357.1 S509.1,363.3 506.5,365.8 L506.5,365.8 C503.9,368.3 501.7,371.9 501.7,374.9 S499.6,381.5 502.2,384.0 L502.2,384.0 C504.8,386.5 502.6,390.5 502.6,393.5 S500.4,400.4 497.8,402.9 L497.8,402.9 C495.2,405.4 492.8,409.8 492.8,412.8 S490.5,420.1 493.1,422.6 L493.1,422.6 C495.7,425.1 493.3,429.8 493.3,432.8 S490.9,440.6 488.3,443.1" stroke="#d6d2a4" stroke-width="1.7" opacity="0.5" filter="url(#blur1)"/>
<path d="M533.6,257.0 C536.2,259.5 534.6,260.9 534.6,263.9 S533.0,268.3 530.4,270.8 L530.4,270.8 C527.8,273.3 526.1,274.9 526.1,277.9 S524.4,282.6 527.0,285.1 L527.0,285.1 C529.6,287.6 527.9,289.5 527.9,292.5 S526.1,297.5 523.5,300.0 L523.5,300.0 C520.9,302.5 519.1,304.7 519.1,307.7 S517.3,313.0 519.9,315.5 L519.9,315.5 C522.5,318.0 520.6,320.5 520.6,323.5 S518.7,329.1 516.1,331.6 L516.1,331.6 C513.5,334.1 511.5,337.0 511.5,340.0 S509.5,345.9 512.1,348.4 L512.1,348.4 C514.7,350.9 512.6,354.1 512.6,357.1 S510.6,363.3 508.0,365.8 L508.0,365.8 C505.4,368.3 503.2,371.9 503.2,374.9 S501.1,381.5 503.7,384.0 L503.7,384.0 C506.3,386.5 504.1,390.5 504.1,393.5 S501.9,400.4 499.3,402.9 L499.3,402.9 C496.7,405.4 494.3,409.8 494.3,412.8 S492.0,420.1 494.6,422.6 L494.6,422.6 C497.2,425.1 494.8,429.8 494.8,432.8 S492.4,440.6 489.8,443.1" stroke="#fffef6" stroke-width="1.3" opacity="0.55" filter="url(#blur1)"/>
<path d="M579.2,257.0 C576.6,259.5 575.9,260.9 575.9,263.9 S575.2,268.3 577.8,270.8 L577.8,270.8 C580.4,273.3 579.7,274.9 579.7,277.9 S579.0,282.6 576.4,285.1 L576.4,285.1 C573.8,287.6 573.1,289.5 573.1,292.5 S572.4,297.5 575.0,300.0 L575.0,300.0 C577.6,302.5 576.9,304.7 576.9,307.7 S576.1,313.0 573.5,315.5 L573.5,315.5 C570.9,318.0 570.1,320.5 570.1,323.5 S569.3,329.1 571.9,331.6 L571.9,331.6 C574.5,334.1 573.7,337.0 573.7,340.0 S572.9,345.9 570.3,348.4 L570.3,348.4 C567.7,350.9 566.9,354.1 566.9,357.1 S566.0,363.3 568.6,365.8 L568.6,365.8 C571.2,368.3 570.3,371.9 570.3,374.9 S569.5,381.5 566.9,384.0 L566.9,384.0 C564.3,386.5 563.3,390.5 563.3,393.5 S562.4,400.4 565.0,402.9 L565.0,402.9 C567.6,405.4 566.7,409.8 566.7,412.8 S565.7,420.1 563.1,422.6 L563.1,422.6 C560.5,425.1 559.5,429.8 559.5,432.8 S558.5,440.6 561.1,443.1" stroke="#d6d2a4" stroke-width="1.7" opacity="0.5" filter="url(#blur1)"/>
<path d="M580.7,257.0 C578.1,259.5 577.4,260.9 577.4,263.9 S576.7,268.3 579.3,270.8 L579.3,270.8 C581.9,273.3 581.2,274.9 581.2,277.9 S580.5,282.6 577.9,285.1 L577.9,285.1 C575.3,287.6 574.6,289.5 574.6,292.5 S573.9,297.5 576.5,300.0 L576.5,300.0 C579.1,302.5 578.4,304.7 578.4,307.7 S577.6,313.0 575.0,315.5 L575.0,315.5 C572.4,318.0 571.6,320.5 571.6,323.5 S570.8,329.1 573.4,331.6 L573.4,331.6 C576.0,334.1 575.2,337.0 575.2,340.0 S574.4,345.9 571.8,348.4 L571.8,348.4 C569.2,350.9 568.4,354.1 568.4,357.1 S567.5,363.3 570.1,365.8 L570.1,365.8 C572.7,368.3 571.8,371.9 571.8,374.9 S571.0,381.5 568.4,384.0 L568.4,384.0 C565.8,386.5 564.8,390.5 564.8,393.5 S563.9,400.4 566.5,402.9 L566.5,402.9 C569.1,405.4 568.2,409.8 568.2,412.8 S567.2,420.1 564.6,422.6 L564.6,422.6 C562.0,425.1 561.0,429.8 561.0,432.8 S560.0,440.6 562.6,443.1" stroke="#fffef6" stroke-width="1.3" opacity="0.55" filter="url(#blur1)"/>
<path d="M626.2,257.0 C628.8,259.5 629.1,260.9 629.1,263.9 S629.4,268.3 626.8,270.8 L626.8,270.8 C624.2,273.3 624.5,274.9 624.5,277.9 S624.8,282.6 627.4,285.1 L627.4,285.1 C630.0,287.6 630.3,289.5 630.3,292.5 S630.6,297.5 628.0,300.0 L628.0,300.0 C625.4,302.5 625.7,304.7 625.7,307.7 S626.0,313.0 628.6,315.5 L628.6,315.5 C631.2,318.0 631.6,320.5 631.6,323.5 S631.9,329.1 629.3,331.6 L629.3,331.6 C626.7,334.1 627.1,337.0 627.1,340.0 S627.4,345.9 630.0,348.4 L630.0,348.4 C632.6,350.9 633.0,354.1 633.0,357.1 S633.4,363.3 630.8,365.8 L630.8,365.8 C628.2,368.3 628.5,371.9 628.5,374.9 S628.9,381.5 631.5,384.0 L631.5,384.0 C634.1,386.5 634.5,390.5 634.5,393.5 S634.9,400.4 632.3,402.9 L632.3,402.9 C629.7,405.4 630.1,409.8 630.1,412.8 S630.5,420.1 633.1,422.6 L633.1,422.6 C635.7,425.1 636.2,429.8 636.2,432.8 S636.6,440.6 634.0,443.1" stroke="#d6d2a4" stroke-width="1.7" opacity="0.5" filter="url(#blur1)"/>
<path d="M627.7,257.0 C630.3,259.5 630.6,260.9 630.6,263.9 S630.9,268.3 628.3,270.8 L628.3,270.8 C625.7,273.3 626.0,274.9 626.0,277.9 S626.3,282.6 628.9,285.1 L628.9,285.1 C631.5,287.6 631.8,289.5 631.8,292.5 S632.1,297.5 629.5,300.0 L629.5,300.0 C626.9,302.5 627.2,304.7 627.2,307.7 S627.5,313.0 630.1,315.5 L630.1,315.5 C632.7,318.0 633.1,320.5 633.1,323.5 S633.4,329.1 630.8,331.6 L630.8,331.6 C628.2,334.1 628.6,337.0 628.6,340.0 S628.9,345.9 631.5,348.4 L631.5,348.4 C634.1,350.9 634.5,354.1 634.5,357.1 S634.9,363.3 632.3,365.8 L632.3,365.8 C629.7,368.3 630.0,371.9 630.0,374.9 S630.4,381.5 633.0,384.0 L633.0,384.0 C635.6,386.5 636.0,390.5 636.0,393.5 S636.4,400.4 633.8,402.9 L633.8,402.9 C631.2,405.4 631.6,409.8 631.6,412.8 S632.0,420.1 634.6,422.6 L634.6,422.6 C637.2,425.1 637.7,429.8 637.7,432.8 S638.1,440.6 635.5,443.1" stroke="#fffef6" stroke-width="1.3" opacity="0.55" filter="url(#blur1)"/>
<path d="M674.6,257.0 C672.0,259.5 673.2,260.9 673.2,263.9 S674.5,268.3 677.1,270.8 L677.1,270.8 C679.7,273.3 681.0,274.9 681.0,277.9 S682.3,282.6 679.7,285.1 L679.7,285.1 C677.1,287.6 678.5,289.5 678.5,292.5 S679.9,297.5 682.5,300.0 L682.5,300.0 C685.1,302.5 686.5,304.7 686.5,307.7 S688.0,313.0 685.4,315.5 L685.4,315.5 C682.8,318.0 684.2,320.5 684.2,323.5 S685.7,329.1 688.3,331.6 L688.3,331.6 C690.9,334.1 692.5,337.0 692.5,340.0 S694.0,345.9 691.4,348.4 L691.4,348.4 C688.8,350.9 690.4,354.1 690.4,357.1 S692.0,363.3 694.6,365.8 L694.6,365.8 C697.2,368.3 698.9,371.9 698.9,374.9 S700.6,381.5 698.0,384.0 L698.0,384.0 C695.4,386.5 697.1,390.5 697.1,393.5 S698.9,400.4 701.5,402.9 L701.5,402.9 C704.1,405.4 705.9,409.8 705.9,412.8 S707.7,420.1 705.1,422.6 L705.1,422.6 C702.5,425.1 704.4,429.8 704.4,432.8 S706.3,440.6 708.9,443.1" stroke="#d6d2a4" stroke-width="1.7" opacity="0.5" filter="url(#blur1)"/>
<path d="M676.1,257.0 C673.5,259.5 674.7,260.9 674.7,263.9 S676.0,268.3 678.6,270.8 L678.6,270.8 C681.2,273.3 682.5,274.9 682.5,277.9 S683.8,282.6 681.2,285.1 L681.2,285.1 C678.6,287.6 680.0,289.5 680.0,292.5 S681.4,297.5 684.0,300.0 L684.0,300.0 C686.6,302.5 688.0,304.7 688.0,307.7 S689.5,313.0 686.9,315.5 L686.9,315.5 C684.3,318.0 685.7,320.5 685.7,323.5 S687.2,329.1 689.8,331.6 L689.8,331.6 C692.4,334.1 694.0,337.0 694.0,340.0 S695.5,345.9 692.9,348.4 L692.9,348.4 C690.3,350.9 691.9,354.1 691.9,357.1 S693.5,363.3 696.1,365.8 L696.1,365.8 C698.7,368.3 700.4,371.9 700.4,374.9 S702.1,381.5 699.5,384.0 L699.5,384.0 C696.9,386.5 698.6,390.5 698.6,393.5 S700.4,400.4 703.0,402.9 L703.0,402.9 C705.6,405.4 707.4,409.8 707.4,412.8 S709.2,420.1 706.6,422.6 L706.6,422.6 C704.0,425.1 705.9,429.8 705.9,432.8 S707.8,440.6 710.4,443.1" stroke="#fffef6" stroke-width="1.3" opacity="0.55" filter="url(#blur1)"/>
<path d="M721.6,257.0 C724.2,259.5 726.4,260.9 726.4,263.9 S728.6,268.3 726.0,270.8 L726.0,270.8 C723.4,273.3 725.8,274.9 725.8,277.9 S728.1,282.6 730.7,285.1 L730.7,285.1 C733.3,287.6 735.7,289.5 735.7,292.5 S738.1,297.5 735.5,300.0 L735.5,300.0 C732.9,302.5 735.4,304.7 735.4,307.7 S737.9,313.0 740.5,315.5 L740.5,315.5 C743.1,318.0 745.7,320.5 745.7,323.5 S748.3,329.1 745.7,331.6 L745.7,331.6 C743.1,334.1 745.8,337.0 745.8,340.0 S748.5,345.9 751.1,348.4 L751.1,348.4 C753.7,350.9 756.6,354.1 756.6,357.1 S759.4,363.3 756.8,365.8 L756.8,365.8 C754.2,368.3 757.1,371.9 757.1,374.9 S760.1,381.5 762.7,384.0 L762.7,384.0 C765.3,386.5 768.3,390.5 768.3,393.5 S771.4,400.4 768.8,402.9 L768.8,402.9 C766.2,405.4 769.4,409.8 769.4,412.8 S772.5,420.1 775.1,422.6 L775.1,422.6 C777.7,425.1 781.0,429.8 781.0,432.8 S784.4,440.6 781.8,443.1" stroke="#d6d2a4" stroke-width="1.7" opacity="0.5" filter="url(#blur1)"/>
<path d="M723.1,257.0 C725.7,259.5 727.9,260.9 727.9,263.9 S730.1,268.3 727.5,270.8 L727.5,270.8 C724.9,273.3 727.3,274.9 727.3,277.9 S729.6,282.6 732.2,285.1 L732.2,285.1 C734.8,287.6 737.2,289.5 737.2,292.5 S739.6,297.5 737.0,300.0 L737.0,300.0 C734.4,302.5 736.9,304.7 736.9,307.7 S739.4,313.0 742.0,315.5 L742.0,315.5 C744.6,318.0 747.2,320.5 747.2,323.5 S749.8,329.1 747.2,331.6 L747.2,331.6 C744.6,334.1 747.3,337.0 747.3,340.0 S750.0,345.9 752.6,348.4 L752.6,348.4 C755.2,350.9 758.1,354.1 758.1,357.1 S760.9,363.3 758.3,365.8 L758.3,365.8 C755.7,368.3 758.6,371.9 758.6,374.9 S761.6,381.5 764.2,384.0 L764.2,384.0 C766.8,386.5 769.8,390.5 769.8,393.5 S772.9,400.4 770.3,402.9 L770.3,402.9 C767.7,405.4 770.9,409.8 770.9,412.8 S774.0,420.1 776.6,422.6 L776.6,422.6 C779.2,425.1 782.5,429.8 782.5,432.8 S785.9,440.6 783.3,443.1" stroke="#fffef6" stroke-width="1.3" opacity="0.55" filter="url(#blur1)"/>
<path d="M768.6,257.0 C766.0,259.5 769.2,260.9 769.2,263.9 S772.4,268.3 775.0,270.8 L775.0,270.8 C777.6,273.3 780.9,274.9 780.9,277.9 S784.2,282.6 781.6,285.1 L781.6,285.1 C779.0,287.6 782.4,289.5 782.4,292.5 S785.9,297.5 788.5,300.0 L788.5,300.0 C791.1,302.5 794.7,304.7 794.7,307.7 S798.2,313.0 795.6,315.5 L795.6,315.5 C793.0,318.0 796.8,320.5 796.8,323.5 S800.5,329.1 803.1,331.6 L803.1,331.6 C805.7,334.1 809.6,337.0 809.6,340.0 S813.4,345.9 810.8,348.4 L810.8,348.4 C808.2,350.9 812.3,354.1 812.3,357.1 S816.3,363.3 818.9,365.8 L818.9,365.8 C821.5,368.3 825.7,371.9 825.7,374.9 S829.9,381.5 827.3,384.0 L827.3,384.0 C824.7,386.5 829.1,390.5 829.1,393.5 S833.5,400.4 836.1,402.9 L836.1,402.9 C838.7,405.4 843.2,409.8 843.2,412.8 S847.7,420.1 845.1,422.6 L845.1,422.6 C842.5,425.1 847.3,429.8 847.3,432.8 S852.0,440.6 854.6,443.1" stroke="#d6d2a4" stroke-width="1.7" opacity="0.5" filter="url(#blur1)"/>
<path d="M770.1,257.0 C767.5,259.5 770.7,260.9 770.7,263.9 S773.9,268.3 776.5,270.8 L776.5,270.8 C779.1,273.3 782.4,274.9 782.4,277.9 S785.7,282.6 783.1,285.1 L783.1,285.1 C780.5,287.6 783.9,289.5 783.9,292.5 S787.4,297.5 790.0,300.0 L790.0,300.0 C792.6,302.5 796.2,304.7 796.2,307.7 S799.7,313.0 797.1,315.5 L797.1,315.5 C794.5,318.0 798.3,320.5 798.3,323.5 S802.0,329.1 804.6,331.6 L804.6,331.6 C807.2,334.1 811.1,337.0 811.1,340.0 S814.9,345.9 812.3,348.4 L812.3,348.4 C809.7,350.9 813.8,354.1 813.8,357.1 S817.8,363.3 820.4,365.8 L820.4,365.8 C823.0,368.3 827.2,371.9 827.2,374.9 S831.4,381.5 828.8,384.0 L828.8,384.0 C826.2,386.5 830.6,390.5 830.6,393.5 S835.0,400.4 837.6,402.9 L837.6,402.9 C840.2,405.4 844.7,409.8 844.7,412.8 S849.2,420.1 846.6,422.6 L846.6,422.6 C844.0,425.1 848.8,429.8 848.8,432.8 S853.5,440.6 856.1,443.1" stroke="#fffef6" stroke-width="1.3" opacity="0.55" filter="url(#blur1)"/>
<path d="M815.7,257.0 C818.3,259.5 822.4,260.9 822.4,263.9 S826.5,268.3 823.9,270.8 L823.9,270.8 C821.3,273.3 825.6,274.9 825.6,277.9 S829.9,282.6 832.5,285.1 L832.5,285.1 C835.1,287.6 839.6,289.5 839.6,292.5 S844.1,297.5 841.5,300.0 L841.5,300.0 C838.9,302.5 843.5,304.7 843.5,307.7 S848.2,313.0 850.8,315.5 L850.8,315.5 C853.4,318.0 858.2,320.5 858.2,323.5 S863.1,329.1 860.5,331.6 L860.5,331.6 C857.9,334.1 862.9,337.0 862.9,340.0 S868.0,345.9 870.6,348.4 L870.6,348.4 C873.2,350.9 878.4,354.1 878.4,357.1 S883.7,363.3 881.1,365.8 L881.1,365.8 C878.5,368.3 883.9,371.9 883.9,374.9 S889.4,381.5 892.0,384.0 L892.0,384.0 C894.6,386.5 900.2,390.5 900.2,393.5 S905.9,400.4 903.3,402.9 L903.3,402.9 C900.7,405.4 906.6,409.8 906.6,412.8 S912.5,420.1 915.1,422.6 L915.1,422.6 C917.7,425.1 923.9,429.8 923.9,432.8 S930.0,440.6 927.4,443.1" stroke="#d6d2a4" stroke-width="1.7" opacity="0.5" filter="url(#blur1)"/>
<path d="M817.2,257.0 C819.8,259.5 823.9,260.9 823.9,263.9 S828.0,268.3 825.4,270.8 L825.4,270.8 C822.8,273.3 827.1,274.9 827.1,277.9 S831.4,282.6 834.0,285.1 L834.0,285.1 C836.6,287.6 841.1,289.5 841.1,292.5 S845.6,297.5 843.0,300.0 L843.0,300.0 C840.4,302.5 845.0,304.7 845.0,307.7 S849.7,313.0 852.3,315.5 L852.3,315.5 C854.9,318.0 859.7,320.5 859.7,323.5 S864.6,329.1 862.0,331.6 L862.0,331.6 C859.4,334.1 864.4,337.0 864.4,340.0 S869.5,345.9 872.1,348.4 L872.1,348.4 C874.7,350.9 879.9,354.1 879.9,357.1 S885.2,363.3 882.6,365.8 L882.6,365.8 C880.0,368.3 885.4,371.9 885.4,374.9 S890.9,381.5 893.5,384.0 L893.5,384.0 C896.1,386.5 901.7,390.5 901.7,393.5 S907.4,400.4 904.8,402.9 L904.8,402.9 C902.2,405.4 908.1,409.8 908.1,412.8 S914.0,420.1 916.6,422.6 L916.6,422.6 C919.2,425.1 925.4,429.8 925.4,432.8 S931.5,440.6 928.9,443.1" stroke="#fffef6" stroke-width="1.3" opacity="0.55" filter="url(#blur1)"/>
<path d="M862.7,257.0 C860.1,259.5 865.2,260.9 865.2,263.9 S870.3,268.3 872.9,270.8 L872.9,270.8 C875.5,273.3 880.8,274.9 880.8,277.9 S886.1,282.6 883.5,285.1 L883.5,285.1 C880.9,287.6 886.4,289.5 886.4,292.5 S891.9,297.5 894.5,300.0 L894.5,300.0 C897.1,302.5 902.8,304.7 902.8,307.7 S908.5,313.0 905.9,315.5 L905.9,315.5 C903.3,318.0 909.3,320.5 909.3,323.5 S915.3,329.1 917.9,331.6 L917.9,331.6 C920.5,334.1 926.7,337.0 926.7,340.0 S932.9,345.9 930.3,348.4 L930.3,348.4 C927.7,350.9 934.1,354.1 934.1,357.1 S940.6,363.3 943.2,365.8 L943.2,365.8 C945.8,368.3 952.5,371.9 952.5,374.9 S959.2,381.5 956.6,384.0 L956.6,384.0 C954.0,386.5 961.0,390.5 961.0,393.5 S968.0,400.4 970.6,402.9 L970.6,402.9 C973.2,405.4 980.5,409.8 980.5,412.8 S987.8,420.1 985.2,422.6 L985.2,422.6 C982.6,425.1 990.1,429.8 990.1,432.8 S997.7,440.6 1000.3,443.1" stroke="#d6d2a4" stroke-width="1.7" opacity="0.5" filter="url(#blur1)"/>
<path d="M864.2,257.0 C861.6,259.5 866.7,260.9 866.7,263.9 S871.8,268.3 874.4,270.8 L874.4,270.8 C877.0,273.3 882.3,274.9 882.3,277.9 S887.6,282.6 885.0,285.1 L885.0,285.1 C882.4,287.6 887.9,289.5 887.9,292.5 S893.4,297.5 896.0,300.0 L896.0,300.0 C898.6,302.5 904.3,304.7 904.3,307.7 S910.0,313.0 907.4,315.5 L907.4,315.5 C904.8,318.0 910.8,320.5 910.8,323.5 S916.8,329.1 919.4,331.6 L919.4,331.6 C922.0,334.1 928.2,337.0 928.2,340.0 S934.4,345.9 931.8,348.4 L931.8,348.4 C929.2,350.9 935.6,354.1 935.6,357.1 S942.1,363.3 944.7,365.8 L944.7,365.8 C947.3,368.3 954.0,371.9 954.0,374.9 S960.7,381.5 958.1,384.0 L958.1,384.0 C955.5,386.5 962.5,390.5 962.5,393.5 S969.5,400.4 972.1,402.9 L972.1,402.9 C974.7,405.4 982.0,409.8 982.0,412.8 S989.3,420.1 986.7,422.6 L986.7,422.6 C984.1,425.1 991.6,429.8 991.6,432.8 S999.2,440.6 1001.8,443.1" stroke="#fffef6" stroke-width="1.3" opacity="0.55" filter="url(#blur1)"/>
</g>
<g clip-path="url(#cCover)" font-family="Liberation Sans, sans-serif" font-weight="bold" fill="none" stroke="#c9c58f" stroke-width="0.55" text-anchor="middle" filter="url(#blur03)">
<text transform="translate(450.6,372.2) rotate(1.5) skewX(-22) scale(1.868,1.139)" font-size="10.0" y="3.6" opacity="0.63">COTTON</text>
<text transform="translate(452.5,329) rotate(76) skewX(8) scale(0.725,1.806)" font-size="10.0" y="3.6" opacity="0.49">COTTON</text>
<text transform="translate(604.5,324.8) rotate(181.5) skewX(-20) scale(1.670,1.042)" font-size="10.0" y="3.6" opacity="0.56">COTTON</text>
<text transform="translate(593,287.8) rotate(62) skewX(8) scale(0.593,1.528)" font-size="10.0" y="3.6" opacity="0.42">COTTON</text>
<text transform="translate(718,284.6) rotate(192) skewX(-15) scale(0.923,0.903)" font-size="10.0" y="3.6" opacity="0.35">COTTON</text>
<text transform="translate(872,327.8) rotate(197) skewX(-15) scale(1.143,1.042)" font-size="10.0" y="3.6" opacity="0.32">COTTON</text>
</g>
<path d="M298.6,360.2 L426.8,413.6" fill="none" stroke="#98989c" stroke-width="1.8"/>
<path d="M862.6,358 L914.6,336 Q919.6,333.4 915.5,330 Q914,329 912,328.5 L780,294.6" fill="none" stroke="#b3aea6" stroke-width="1.15" stroke-dasharray="1.6 0.5"/>
<path d="M780,294.6 L660,263.9" fill="none" stroke="#c9c6bb" stroke-width="0.9"/>
<path d="M300.2,360.2 Q296.3,357.6 302.5,353.8 L330,346.2" fill="none" stroke="#b4b4b0" stroke-width="1" opacity="0.85"/>
<line x1="295.5" y1="330.36" x2="434.3" y2="330.36" stroke="#0a0a0a" stroke-width="1.15"/>
<ellipse cx="433.7" cy="330.36" rx="1.1" ry="1.5" fill="#0a0a0a"/>
<line x1="212.5" y1="360.06" x2="599.6" y2="360.06" stroke="#0a0a0a" stroke-width="1.15"/>
<ellipse cx="599.0" cy="360.06" rx="2.4" ry="1.7" fill="#0a0a0a"/>
<line x1="149.5" y1="387.05" x2="606.8" y2="387.05" stroke="#0a0a0a" stroke-width="1.15"/>
<ellipse cx="606.1999999999999" cy="387.05" rx="2.4" ry="1.7" fill="#0a0a0a"/>
<line x1="318" y1="422.3" x2="585.3" y2="422.3" stroke="#0a0a0a" stroke-width="1.15"/>
<ellipse cx="584.6999999999999" cy="422.3" rx="2.0" ry="1.7" fill="#0a0a0a"/>
<line x1="201.5" y1="452.02" x2="449.3" y2="452.02" stroke="#0a0a0a" stroke-width="1.15"/>
<ellipse cx="448.7" cy="452.02" rx="2.0" ry="1.7" fill="#0a0a0a"/>
<g font-family="Liberation Sans, sans-serif" fill="#000" stroke="#000" stroke-width="0.45" stroke-linejoin="round">
<text y="300.6" font-size="22.2" font-weight="bold"><tspan x="5.03" textLength="80.07" lengthAdjust="spacingAndGlyphs">Состав:</tspan></text>
<text y="330.5" font-size="21.0"><tspan x="5.59" textLength="56.95" lengthAdjust="spacingAndGlyphs">Чехол</tspan> <tspan x="68.68" textLength="90.2" lengthAdjust="spacingAndGlyphs">стегается</tspan> <tspan x="164.94" textLength="22.2" lengthAdjust="spacingAndGlyphs">на</tspan> <tspan x="193.39" textLength="98.47" lengthAdjust="spacingAndGlyphs">синтепоне</tspan></text>
<text y="360.4" font-size="21.0"><tspan x="3.6" textLength="155.89" lengthAdjust="spacingAndGlyphs">Ортопедическая</tspan> <tspan x="165.74" textLength="44.4" lengthAdjust="spacingAndGlyphs">пена</tspan> <tspan x="216.62" textLength="21.35" lengthAdjust="spacingAndGlyphs">20</tspan> <tspan x="244.77" textLength="27.25" lengthAdjust="spacingAndGlyphs">мм</tspan></text>
<text y="390.1" font-size="21.0"><tspan x="5.74" textLength="135.42" lengthAdjust="spacingAndGlyphs">Термоволокно</tspan></text>
<text y="420.2" font-size="21.0"><tspan x="4.56" textLength="87.56" lengthAdjust="spacingAndGlyphs">Пружины</tspan> <tspan x="98.47" textLength="61.04" lengthAdjust="spacingAndGlyphs">Bonnel</tspan> <tspan x="167.93" textLength="32.42" lengthAdjust="spacingAndGlyphs">117</tspan> <tspan x="206.77" textLength="56.24" lengthAdjust="spacingAndGlyphs">пр/м2</tspan> <tspan x="268.44" textLength="100.97" lengthAdjust="spacingAndGlyphs">усиленные</tspan></text>
<text y="450.3" font-size="21.0"><tspan x="5.0" textLength="88.18" lengthAdjust="spacingAndGlyphs">Усиление</tspan> <tspan x="102.37" textLength="98.75" lengthAdjust="spacingAndGlyphs">периметра</tspan></text>
</g>
</svg>
</div></body></html>
